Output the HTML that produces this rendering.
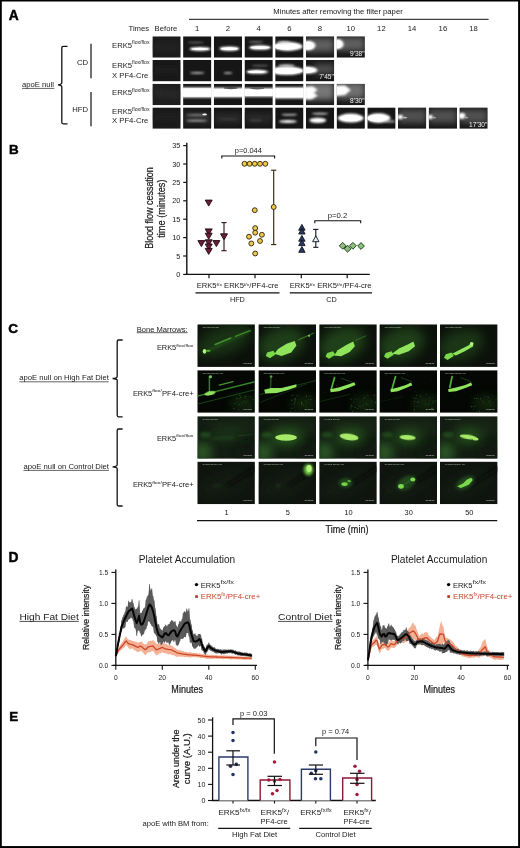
<!DOCTYPE html>
<html lang="en"><head><meta charset="utf-8"><title>Figure</title>
<style>
html,body{margin:0;padding:0;background:#fff;}
body{width:520px;height:848px;overflow:hidden;position:relative;font-family:"Liberation Sans",Arial,sans-serif;}
svg{display:block;position:absolute;left:0;top:0;opacity:0.999;}
svg text{font-family:"Liberation Sans",Arial,sans-serif;fill:#1a1a1a;}
</style></head><body>
<svg width="520" height="848" viewBox="0 0 520 848">
<defs>
<filter id="c1" filterUnits="userSpaceOnUse" x="-40" y="-40" width="180" height="160"><feGaussianBlur stdDeviation="2.2"/></filter>
<filter id="c2" filterUnits="userSpaceOnUse" x="-40" y="-40" width="180" height="160"><feGaussianBlur stdDeviation="4.5"/></filter>
<filter id="c3" filterUnits="userSpaceOnUse" x="-40" y="-40" width="180" height="160"><feGaussianBlur stdDeviation="11"/></filter>
<filter id="g1" filterUnits="userSpaceOnUse" x="-40" y="-40" width="180" height="160"><feGaussianBlur stdDeviation="1.1"/></filter>
<filter id="g2" filterUnits="userSpaceOnUse" x="-40" y="-40" width="180" height="160"><feGaussianBlur stdDeviation="2.6"/></filter>
<filter id="g3" filterUnits="userSpaceOnUse" x="-40" y="-40" width="180" height="160"><feGaussianBlur stdDeviation="9"/></filter>
</defs>
<rect x="0" y="0" width="520" height="848" fill="#fff"/>
<g id="panelA">
<text x="8.8" y="20.4" font-size="13.8" font-weight="700" style="fill:#000" stroke="#000" stroke-width="0.45">A</text>
<text x="338" y="14" text-anchor="middle" font-size="7.7">Minutes after removing the filter paper</text>
<line x1="189" y1="19.3" x2="488.6" y2="19.3" stroke="#111" stroke-width="1"/>
<text x="128.5" y="30.8" font-size="7.7">Times</text>
<text x="154.6" y="30.8" font-size="7.7">Before</text>
<text x="197.2" y="30.8" text-anchor="middle" font-size="7.7">1</text>
<text x="228.0" y="30.8" text-anchor="middle" font-size="7.7">2</text>
<text x="258.6" y="30.8" text-anchor="middle" font-size="7.7">4</text>
<text x="289.3" y="30.8" text-anchor="middle" font-size="7.7">6</text>
<text x="320.0" y="30.8" text-anchor="middle" font-size="7.7">8</text>
<text x="350.8" y="30.8" text-anchor="middle" font-size="7.7">10</text>
<text x="381.4" y="30.8" text-anchor="middle" font-size="7.7">12</text>
<text x="412.1" y="30.8" text-anchor="middle" font-size="7.7">14</text>
<text x="442.9" y="30.8" text-anchor="middle" font-size="7.7">16</text>
<text x="473.5" y="30.8" text-anchor="middle" font-size="7.7">18</text>
<text x="22" y="87.2" font-size="7.7">apoE null</text>
<line x1="22" y1="88.4" x2="54.3" y2="88.4" stroke="#222" stroke-width="0.7"/>
<path d="M67.5 46.3 H63.2 Q61.8 46.3 61.8 47.8 V82.5 Q61.8 84.6 58 84.8 Q61.8 85 61.8 87 V122.3 Q61.8 123.8 63.2 123.8 H67.5" fill="none" stroke="#111" stroke-width="1.3"/>
<text x="88" y="65.3" text-anchor="end" font-size="7.7">CD</text>
<text x="88" y="111.5" text-anchor="end" font-size="7.7">HFD</text>
<line x1="91" y1="43.8" x2="91" y2="78.3" stroke="#111" stroke-width="1.2"/>
<line x1="91" y1="92" x2="91" y2="126.3" stroke="#111" stroke-width="1.2"/>
<text x="112" y="47.5" font-size="7.7">ERK5<tspan dy="-3.2" font-size="5" textLength="17.4" lengthAdjust="spacingAndGlyphs">flox/flox</tspan></text>
<text x="112" y="67.5" font-size="7.7">ERK5<tspan dy="-3.2" font-size="5" textLength="17.4" lengthAdjust="spacingAndGlyphs">flox/flox</tspan></text>
<text x="112" y="95" font-size="7.7">ERK5<tspan dy="-3.2" font-size="5" textLength="17.4" lengthAdjust="spacingAndGlyphs">flox/flox</tspan></text>
<text x="112" y="114.3" font-size="7.7">ERK5<tspan dy="-3.2" font-size="5" textLength="17.4" lengthAdjust="spacingAndGlyphs">flox/flox</tspan></text>
<text x="112" y="77.5" font-size="7.7">X PF4-Cre</text>
<text x="112" y="123.2" font-size="7.7">X PF4-Cre</text>
<svg x="152.4" y="36.3" width="28.3" height="21.4" viewBox="0 0 100 76" preserveAspectRatio="none"><rect width="100" height="76" fill="#1d1d1d"/><rect x="0" y="30" width="100" height="18" fill="#2a2a2a" opacity="0.8" filter="url(#c3)"/></svg>
<svg x="183.1" y="36.3" width="28.3" height="21.4" viewBox="0 0 100 76" preserveAspectRatio="none"><rect width="100" height="76" fill="#161616"/><ellipse cx="45" cy="22" rx="30" ry="2.5" fill="#888" opacity="0.8" filter="url(#c2)"/><ellipse cx="60" cy="45" rx="38" ry="7" fill="#ffffff" opacity="1" filter="url(#c2)"/><ellipse cx="60" cy="45" rx="30" ry="4" fill="#ffffff" opacity="1" filter="url(#c1)"/></svg>
<svg x="213.8" y="36.3" width="28.3" height="21.4" viewBox="0 0 100 76" preserveAspectRatio="none"><rect width="100" height="76" fill="#161616"/><ellipse cx="55" cy="44" rx="36" ry="8" fill="#ffffff" opacity="1" filter="url(#c2)"/><ellipse cx="55" cy="44" rx="30" ry="5" fill="#ffffff" opacity="1" filter="url(#c1)"/></svg>
<svg x="244.5" y="36.3" width="28.3" height="21.4" viewBox="0 0 100 76" preserveAspectRatio="none"><rect width="100" height="76" fill="#161616"/><ellipse cx="40" cy="20" rx="28" ry="2.5" fill="#aaa" opacity="0.8" filter="url(#c2)"/><ellipse cx="55" cy="40" rx="40" ry="8" fill="#ffffff" opacity="1" filter="url(#c2)"/><ellipse cx="55" cy="40" rx="34" ry="5" fill="#ffffff" opacity="1" filter="url(#c1)"/></svg>
<svg x="275.2" y="36.3" width="28.3" height="21.4" viewBox="0 0 100 76" preserveAspectRatio="none"><rect width="100" height="76" fill="#161616"/><ellipse cx="45" cy="36" rx="52" ry="16" fill="#ffffff" opacity="1" filter="url(#c2)"/><ellipse cx="40" cy="36" rx="44" ry="12" fill="#ffffff" opacity="1" filter="url(#c1)"/><ellipse cx="30" cy="22" rx="25" ry="5" fill="#ddd" opacity="0.9" filter="url(#c2)"/></svg>
<svg x="305.9" y="36.3" width="28.3" height="21.4" viewBox="0 0 100 76" preserveAspectRatio="none"><rect width="100" height="76" fill="#161616"/><rect x="0" y="6" width="100" height="50" fill="#808080" opacity="0.7" filter="url(#c3)"/><ellipse cx="8" cy="33" rx="26" ry="17" fill="#ffffff" opacity="1" filter="url(#c2)"/><ellipse cx="5" cy="33" rx="22" ry="14" fill="#ffffff" opacity="1" filter="url(#c1)"/></svg>
<svg x="336.6" y="36.3" width="28.3" height="21.4" viewBox="0 0 100 76" preserveAspectRatio="none"><rect width="100" height="76" fill="#161616"/><rect x="0" y="2" width="100" height="50" fill="#808080" opacity="0.7" filter="url(#c3)"/><ellipse cx="3" cy="28" rx="22" ry="18" fill="#ffffff" opacity="1" filter="url(#c2)"/><ellipse cx="0" cy="28" rx="18" ry="15" fill="#ffffff" opacity="1" filter="url(#c1)"/></svg><text x="364.6" y="55.5" text-anchor="end" font-size="6.6" style="fill:#f2f2f2">9'38"</text>
<svg x="152.4" y="60.0" width="28.3" height="21.4" viewBox="0 0 100 76" preserveAspectRatio="none"><rect width="100" height="76" fill="#191919"/><rect x="0" y="30" width="100" height="14" fill="#232323" opacity="0.8" filter="url(#c3)"/></svg>
<svg x="183.1" y="60.0" width="28.3" height="21.4" viewBox="0 0 100 76" preserveAspectRatio="none"><rect width="100" height="76" fill="#161616"/><ellipse cx="50" cy="46" rx="26" ry="3" fill="#ddd" opacity="0.9" filter="url(#c2)"/></svg>
<svg x="213.8" y="60.0" width="28.3" height="21.4" viewBox="0 0 100 76" preserveAspectRatio="none"><rect width="100" height="76" fill="#161616"/><ellipse cx="50" cy="46" rx="16" ry="2.5" fill="#eee" opacity="0.9" filter="url(#c2)"/></svg>
<svg x="244.5" y="60.0" width="28.3" height="21.4" viewBox="0 0 100 76" preserveAspectRatio="none"><rect width="100" height="76" fill="#161616"/><ellipse cx="55" cy="20" rx="30" ry="2.5" fill="#aaa" opacity="0.7" filter="url(#c2)"/><ellipse cx="45" cy="42" rx="40" ry="7" fill="#ffffff" opacity="1" filter="url(#c2)"/><ellipse cx="42" cy="42" rx="32" ry="4.5" fill="#ffffff" opacity="1" filter="url(#c1)"/></svg>
<svg x="275.2" y="60.0" width="28.3" height="21.4" viewBox="0 0 100 76" preserveAspectRatio="none"><rect width="100" height="76" fill="#161616"/><ellipse cx="40" cy="38" rx="62" ry="15" fill="#ffffff" opacity="1" filter="url(#c2)"/><ellipse cx="40" cy="38" rx="55" ry="11" fill="#ffffff" opacity="1" filter="url(#c1)"/><ellipse cx="40" cy="20" rx="30" ry="5" fill="#ddd" opacity="0.9" filter="url(#c2)"/></svg>
<svg x="305.9" y="60.0" width="28.3" height="21.4" viewBox="0 0 100 76" preserveAspectRatio="none"><rect width="100" height="76" fill="#161616"/><rect x="30" y="14" width="70" height="36" fill="#777" opacity="0.6" filter="url(#c3)"/><ellipse cx="5" cy="36" rx="36" ry="13" fill="#ffffff" opacity="1" filter="url(#c2)"/><ellipse cx="0" cy="36" rx="32" ry="10" fill="#ffffff" opacity="1" filter="url(#c1)"/></svg><text x="333.9" y="79.2" text-anchor="end" font-size="6.6" style="fill:#f2f2f2">7'45"</text>
<svg x="152.4" y="83.8" width="28.3" height="21.4" viewBox="0 0 100 76" preserveAspectRatio="none"><rect width="100" height="76" fill="#1f1f1f"/><path d="M0 20 L100 32 L100 48 L0 40 Z" fill="#333" opacity="0.8" filter="url(#c3)"/></svg>
<svg x="183.1" y="83.8" width="28.3" height="21.4" viewBox="0 0 100 76" preserveAspectRatio="none"><rect width="100" height="76" fill="#161616"/><rect x="-5" y="13" width="110" height="36" fill="#ffffff" opacity="1" filter="url(#c2)"/><rect x="-5" y="16" width="110" height="30" fill="#ffffff" opacity="1" filter="url(#c1)"/></svg>
<svg x="213.8" y="83.8" width="28.3" height="21.4" viewBox="0 0 100 76" preserveAspectRatio="none"><rect width="100" height="76" fill="#161616"/><rect x="-5" y="14" width="110" height="34" fill="#ffffff" opacity="1" filter="url(#c2)"/><rect x="-5" y="18" width="110" height="27" fill="#ffffff" opacity="1" filter="url(#c1)"/><ellipse cx="60" cy="15" rx="25" ry="4" fill="#444" opacity="0.9" filter="url(#c1)"/></svg>
<svg x="244.5" y="83.8" width="28.3" height="21.4" viewBox="0 0 100 76" preserveAspectRatio="none"><rect width="100" height="76" fill="#161616"/><rect x="-5" y="15" width="110" height="31" fill="#ffffff" opacity="1" filter="url(#c2)"/><rect x="-5" y="19" width="110" height="24" fill="#ffffff" opacity="1" filter="url(#c1)"/><ellipse cx="45" cy="16" rx="25" ry="4" fill="#555" opacity="0.9" filter="url(#c1)"/></svg>
<svg x="275.2" y="83.8" width="28.3" height="21.4" viewBox="0 0 100 76" preserveAspectRatio="none"><rect width="100" height="76" fill="#161616"/><rect x="-5" y="12" width="110" height="40" fill="#ffffff" opacity="1" filter="url(#c2)"/><rect x="-5" y="16" width="110" height="32" fill="#ffffff" opacity="1" filter="url(#c1)"/></svg>
<svg x="305.9" y="83.8" width="28.3" height="21.4" viewBox="0 0 100 76" preserveAspectRatio="none"><rect width="100" height="76" fill="#161616"/><rect x="0" y="-5" width="100" height="62" fill="#999" opacity="0.75" filter="url(#c3)"/><path d="M-5 10 L25 10 L42 22 L28 32 L42 42 L20 56 L-5 56 Z" fill="#ffffff" opacity="1" filter="url(#c2)"/></svg>
<svg x="336.6" y="83.8" width="28.3" height="21.4" viewBox="0 0 100 76" preserveAspectRatio="none"><rect width="100" height="76" fill="#161616"/><rect x="0" y="-5" width="100" height="58" fill="#999" opacity="0.7" filter="url(#c3)"/><path d="M-5 6 L30 6 L50 22 L30 40 L-5 44 Z" fill="#ffffff" opacity="1" filter="url(#c2)"/></svg><text x="364.6" y="103.0" text-anchor="end" font-size="6.6" style="fill:#f2f2f2">8'30"</text>
<svg x="152.4" y="107.4" width="28.3" height="21.4" viewBox="0 0 100 76" preserveAspectRatio="none"><rect width="100" height="76" fill="#1a1a1a"/><rect x="0" y="25" width="100" height="16" fill="#262626" opacity="0.8" filter="url(#c3)"/></svg>
<svg x="183.1" y="107.4" width="28.3" height="21.4" viewBox="0 0 100 76" preserveAspectRatio="none"><rect width="100" height="76" fill="#161616"/><rect x="0" y="18" width="100" height="38" fill="#3a3a3a" opacity="0.7" filter="url(#c3)"/><ellipse cx="48" cy="27" rx="38" ry="3" fill="#bbb" opacity="0.8" filter="url(#c2)"/><ellipse cx="48" cy="47" rx="36" ry="3.5" fill="#ccc" opacity="0.85" filter="url(#c2)"/><ellipse cx="76" cy="25" rx="8" ry="3" fill="#ffffff" opacity="1" filter="url(#c1)"/></svg>
<svg x="213.8" y="107.4" width="28.3" height="21.4" viewBox="0 0 100 76" preserveAspectRatio="none"><rect width="100" height="76" fill="#161616"/><rect x="0" y="20" width="100" height="34" fill="#343434" opacity="0.7" filter="url(#c3)"/><ellipse cx="50" cy="42" rx="34" ry="3" fill="#4a4a4a" opacity="0.8" filter="url(#c2)"/></svg>
<svg x="244.5" y="107.4" width="28.3" height="21.4" viewBox="0 0 100 76" preserveAspectRatio="none"><rect width="100" height="76" fill="#161616"/><rect x="0" y="20" width="100" height="34" fill="#303030" opacity="0.7" filter="url(#c3)"/><ellipse cx="40" cy="46" rx="24" ry="4" fill="#4a4a4a" opacity="0.8" filter="url(#c2)"/></svg>
<svg x="275.2" y="107.4" width="28.3" height="21.4" viewBox="0 0 100 76" preserveAspectRatio="none"><rect width="100" height="76" fill="#161616"/><ellipse cx="50" cy="26" rx="28" ry="3" fill="#eee" opacity="0.9" filter="url(#c2)"/><ellipse cx="45" cy="50" rx="32" ry="5" fill="#ffffff" opacity="1" filter="url(#c2)"/></svg>
<svg x="305.9" y="107.4" width="28.3" height="21.4" viewBox="0 0 100 76" preserveAspectRatio="none"><rect width="100" height="76" fill="#161616"/><ellipse cx="50" cy="22" rx="30" ry="3" fill="#eee" opacity="0.9" filter="url(#c2)"/><ellipse cx="42" cy="46" rx="30" ry="9" fill="#ffffff" opacity="1" filter="url(#c2)"/></svg>
<svg x="336.6" y="107.4" width="28.3" height="21.4" viewBox="0 0 100 76" preserveAspectRatio="none"><rect width="100" height="76" fill="#161616"/><ellipse cx="50" cy="38" rx="46" ry="16" fill="#ffffff" opacity="1" filter="url(#c2)"/><ellipse cx="50" cy="38" rx="38" ry="11" fill="#ffffff" opacity="1" filter="url(#c1)"/></svg>
<svg x="367.3" y="107.4" width="28.3" height="21.4" viewBox="0 0 100 76" preserveAspectRatio="none"><rect width="100" height="76" fill="#161616"/><ellipse cx="40" cy="38" rx="42" ry="17" fill="#ffffff" opacity="1" filter="url(#c2)"/><ellipse cx="36" cy="38" rx="36" ry="13" fill="#ffffff" opacity="1" filter="url(#c1)"/><ellipse cx="80" cy="50" rx="20" ry="4" fill="#ccc" opacity="0.8" filter="url(#c2)"/></svg>
<svg x="398.0" y="107.4" width="28.3" height="21.4" viewBox="0 0 100 76" preserveAspectRatio="none"><rect width="100" height="76" fill="#161616"/><rect x="0" y="6" width="100" height="50" fill="#6a6a6a" opacity="0.7" filter="url(#c3)"/><ellipse cx="8" cy="34" rx="10" ry="8" fill="#ffffff" opacity="1" filter="url(#c2)"/><ellipse cx="25" cy="36" rx="8" ry="3" fill="#ccc" opacity="0.8" filter="url(#c1)"/></svg>
<svg x="428.7" y="107.4" width="28.3" height="21.4" viewBox="0 0 100 76" preserveAspectRatio="none"><rect width="100" height="76" fill="#161616"/><rect x="0" y="6" width="100" height="50" fill="#6a6a6a" opacity="0.7" filter="url(#c3)"/><ellipse cx="6" cy="34" rx="9" ry="8" fill="#ffffff" opacity="1" filter="url(#c2)"/><ellipse cx="20" cy="36" rx="6" ry="3" fill="#bbb" opacity="0.7" filter="url(#c1)"/></svg>
<svg x="459.4" y="107.4" width="28.3" height="21.4" viewBox="0 0 100 76" preserveAspectRatio="none"><rect width="100" height="76" fill="#161616"/><rect x="0" y="6" width="100" height="50" fill="#6a6a6a" opacity="0.7" filter="url(#c3)"/><ellipse cx="8" cy="30" rx="13" ry="11" fill="#ffffff" opacity="1" filter="url(#c2)"/><ellipse cx="25" cy="36" rx="6" ry="3" fill="#bbb" opacity="0.7" filter="url(#c1)"/></svg><text x="487.4" y="126.6" text-anchor="end" font-size="6.6" style="fill:#f2f2f2">17'30"</text>
</g>
<g id="panelB">
<text x="8.9" y="153.6" font-size="13.4" style="fill:#000" font-weight="700" stroke="#000" stroke-width="0.45">B</text>
<line x1="186.8" y1="142.8" x2="186.8" y2="275.0" stroke="#111" stroke-width="1.4" stroke-linecap="butt"/>
<line x1="186.10000000000002" y1="274.4" x2="369.8" y2="274.4" stroke="#111" stroke-width="1.4" stroke-linecap="butt"/>
<line x1="183.20000000000002" y1="274.4" x2="186.8" y2="274.4" stroke="#111" stroke-width="1.2" stroke-linecap="butt"/>
<text x="180.3" y="277.0" font-size="7.3" text-anchor="end">0</text>
<line x1="183.20000000000002" y1="255.99999999999997" x2="186.8" y2="255.99999999999997" stroke="#111" stroke-width="1.2" stroke-linecap="butt"/>
<text x="180.3" y="258.6" font-size="7.3" text-anchor="end">5</text>
<line x1="183.20000000000002" y1="237.59999999999997" x2="186.8" y2="237.59999999999997" stroke="#111" stroke-width="1.2" stroke-linecap="butt"/>
<text x="180.3" y="240.2" font-size="7.3" text-anchor="end">10</text>
<line x1="183.20000000000002" y1="219.2" x2="186.8" y2="219.2" stroke="#111" stroke-width="1.2" stroke-linecap="butt"/>
<text x="180.3" y="221.8" font-size="7.3" text-anchor="end">15</text>
<line x1="183.20000000000002" y1="200.79999999999995" x2="186.8" y2="200.79999999999995" stroke="#111" stroke-width="1.2" stroke-linecap="butt"/>
<text x="180.3" y="203.4" font-size="7.3" text-anchor="end">20</text>
<line x1="183.20000000000002" y1="182.39999999999998" x2="186.8" y2="182.39999999999998" stroke="#111" stroke-width="1.2" stroke-linecap="butt"/>
<text x="180.3" y="185.0" font-size="7.3" text-anchor="end">25</text>
<line x1="183.20000000000002" y1="163.99999999999997" x2="186.8" y2="163.99999999999997" stroke="#111" stroke-width="1.2" stroke-linecap="butt"/>
<text x="180.3" y="166.6" font-size="7.3" text-anchor="end">30</text>
<line x1="183.20000000000002" y1="145.59999999999997" x2="186.8" y2="145.59999999999997" stroke="#111" stroke-width="1.2" stroke-linecap="butt"/>
<text x="180.3" y="148.2" font-size="7.3" text-anchor="end">35</text>
<line x1="209" y1="274.4" x2="209" y2="278.2" stroke="#111" stroke-width="1.2" stroke-linecap="butt"/>
<line x1="255" y1="274.4" x2="255" y2="278.2" stroke="#111" stroke-width="1.2" stroke-linecap="butt"/>
<line x1="301.3" y1="274.4" x2="301.3" y2="278.2" stroke="#111" stroke-width="1.2" stroke-linecap="butt"/>
<line x1="347.2" y1="274.4" x2="347.2" y2="278.2" stroke="#111" stroke-width="1.2" stroke-linecap="butt"/>
<text x="153.3" y="208" font-size="10.6" text-anchor="middle" textLength="81.6" lengthAdjust="spacingAndGlyphs" transform="rotate(-90 153.3 208)" stroke="#1a1a1a" stroke-width="0.22">Blood flow cessation</text>
<text x="165.1" y="208.6" font-size="10.6" text-anchor="middle" textLength="58.3" lengthAdjust="spacingAndGlyphs" transform="rotate(-90 165.1 208.6)" stroke="#1a1a1a" stroke-width="0.22">time (minutes)</text>
<path d="M205.2 200.1 H212.2 L208.7 206.1 Z" fill="#6a1e36" stroke="#1a0a10" stroke-width="0.9" stroke-linejoin="miter"/>
<path d="M205.2 228.9 H212.2 L208.7 234.9 Z" fill="#6a1e36" stroke="#1a0a10" stroke-width="0.9" stroke-linejoin="miter"/>
<path d="M205.2 233.2 H212.2 L208.7 239.2 Z" fill="#6a1e36" stroke="#1a0a10" stroke-width="0.9" stroke-linejoin="miter"/>
<path d="M197.9 240.6 H204.9 L201.4 246.6 Z" fill="#6a1e36" stroke="#1a0a10" stroke-width="0.9" stroke-linejoin="miter"/>
<path d="M205.2 239.8 H212.2 L208.7 245.8 Z" fill="#6a1e36" stroke="#1a0a10" stroke-width="0.9" stroke-linejoin="miter"/>
<path d="M212.9 240.6 H219.9 L216.4 246.6 Z" fill="#6a1e36" stroke="#1a0a10" stroke-width="0.9" stroke-linejoin="miter"/>
<path d="M205.2 244.0 H212.2 L208.7 250.0 Z" fill="#6a1e36" stroke="#1a0a10" stroke-width="0.9" stroke-linejoin="miter"/>
<path d="M205.2 248.4 H212.2 L208.7 254.4 Z" fill="#6a1e36" stroke="#1a0a10" stroke-width="0.9" stroke-linejoin="miter"/>
<line x1="224" y1="222.6" x2="224" y2="250.7" stroke="#2a0c14" stroke-width="1.1" stroke-linecap="butt"/><line x1="221.4" y1="222.6" x2="226.6" y2="222.6" stroke="#2a0c14" stroke-width="1.1" stroke-linecap="butt"/><line x1="221.4" y1="250.7" x2="226.6" y2="250.7" stroke="#2a0c14" stroke-width="1.1" stroke-linecap="butt"/>
<path d="M220.5 233.8 H227.5 L224.0 239.8 Z" fill="#6a1e36" stroke="#1a0a10" stroke-width="0.9" stroke-linejoin="miter"/>
<circle cx="244.5" cy="163.8" r="2.45" fill="#f1c84a" stroke="#2a2208" stroke-width="0.9"/>
<circle cx="249.6" cy="163.8" r="2.45" fill="#f1c84a" stroke="#2a2208" stroke-width="0.9"/>
<circle cx="254.8" cy="163.8" r="2.45" fill="#f1c84a" stroke="#2a2208" stroke-width="0.9"/>
<circle cx="260.0" cy="163.8" r="2.45" fill="#f1c84a" stroke="#2a2208" stroke-width="0.9"/>
<circle cx="265.3" cy="163.8" r="2.45" fill="#f1c84a" stroke="#2a2208" stroke-width="0.9"/>
<circle cx="254.8" cy="210.2" r="2.45" fill="#f1c84a" stroke="#2a2208" stroke-width="0.9"/>
<circle cx="255.2" cy="228.1" r="2.45" fill="#f1c84a" stroke="#2a2208" stroke-width="0.9"/>
<circle cx="255.2" cy="232.7" r="2.45" fill="#f1c84a" stroke="#2a2208" stroke-width="0.9"/>
<circle cx="261.9" cy="234.8" r="2.45" fill="#f1c84a" stroke="#2a2208" stroke-width="0.9"/>
<circle cx="249.0" cy="236.7" r="2.45" fill="#f1c84a" stroke="#2a2208" stroke-width="0.9"/>
<circle cx="260.0" cy="241.0" r="2.45" fill="#f1c84a" stroke="#2a2208" stroke-width="0.9"/>
<circle cx="251.3" cy="243.5" r="2.45" fill="#f1c84a" stroke="#2a2208" stroke-width="0.9"/>
<circle cx="255.2" cy="253.5" r="2.45" fill="#f1c84a" stroke="#2a2208" stroke-width="0.9"/>
<line x1="273.7" y1="170.2" x2="273.7" y2="244.6" stroke="#2a2208" stroke-width="1.1" stroke-linecap="butt"/><line x1="271.09999999999997" y1="170.2" x2="276.3" y2="170.2" stroke="#2a2208" stroke-width="1.1" stroke-linecap="butt"/><line x1="271.09999999999997" y1="244.6" x2="276.3" y2="244.6" stroke="#2a2208" stroke-width="1.1" stroke-linecap="butt"/>
<circle cx="273.7" cy="207.0" r="2.45" fill="#f1c84a" stroke="#2a2208" stroke-width="0.9"/>
<path d="M221.8 158.6 V156 H274.6 V158.6" fill="none" stroke="#111" stroke-width="1.1"/>
<text x="248.3" y="153.3" font-size="6.9" text-anchor="middle" textLength="27" lengthAdjust="spacingAndGlyphs">p=0.044</text>
<path d="M298.7 230.2 H305.1 L301.9 224.4 Z" fill="#2b3a5c" stroke="#0c1220" stroke-width="0.9"/>
<path d="M298.7 234.0 H305.1 L301.9 228.2 Z" fill="#2b3a5c" stroke="#0c1220" stroke-width="0.9"/>
<path d="M298.7 241.2 H305.1 L301.9 235.4 Z" fill="#2b3a5c" stroke="#0c1220" stroke-width="0.9"/>
<path d="M298.7 245.6 H305.1 L301.9 239.8 Z" fill="#2b3a5c" stroke="#0c1220" stroke-width="0.9"/>
<path d="M298.7 252.3 H305.1 L301.9 246.5 Z" fill="#2b3a5c" stroke="#0c1220" stroke-width="0.9"/>
<line x1="315.8" y1="229.4" x2="315.8" y2="247.3" stroke="#0c1220" stroke-width="1.1" stroke-linecap="butt"/><line x1="313.2" y1="229.4" x2="318.40000000000003" y2="229.4" stroke="#0c1220" stroke-width="1.1" stroke-linecap="butt"/><line x1="313.2" y1="247.3" x2="318.40000000000003" y2="247.3" stroke="#0c1220" stroke-width="1.1" stroke-linecap="butt"/>
<path d="M312.6 241.7 H319.0 L315.8 235.9 Z" fill="#e8eef8" stroke="#0c1220" stroke-width="0.9"/>
<path d="M339.3 245.8 L342.7 242.4 L346.1 245.8 L342.7 249.2 Z" fill="#8cc177" stroke="#16301a" stroke-width="0.9"/>
<path d="M344.2 248.8 L347.6 245.4 L351.0 248.8 L347.6 252.2 Z" fill="#8cc177" stroke="#16301a" stroke-width="0.9"/>
<path d="M349.5 245.8 L352.9 242.4 L356.3 245.8 L352.9 249.2 Z" fill="#8cc177" stroke="#16301a" stroke-width="0.9"/>
<path d="M357.6 246.0 L361.0 242.6 L364.4 246.0 L361.0 249.4 Z" fill="#8cc177" stroke="#16301a" stroke-width="0.9"/>
<path d="M314.8 223.3 V220.8 H360.7 V223.3" fill="none" stroke="#111" stroke-width="1.1"/>
<text x="337.5" y="218" font-size="6.9" text-anchor="middle" textLength="19.5" lengthAdjust="spacingAndGlyphs">p=0.2</text>
<text x="196.7" y="288.4" font-size="6.6" textLength="81.8" lengthAdjust="spacingAndGlyphs">ERK5<tspan dy="-2.6" font-size="4.4">f/x</tspan><tspan dy="2.6"> ERK5</tspan><tspan dy="-2.6" font-size="4.4">f/x</tspan><tspan dy="2.6">/PF4-cre</tspan></text>
<text x="289.8" y="288.4" font-size="6.6" textLength="81.8" lengthAdjust="spacingAndGlyphs">ERK5<tspan dy="-2.6" font-size="4.4">f/x</tspan><tspan dy="2.6"> ERK5</tspan><tspan dy="-2.6" font-size="4.4">f/x</tspan><tspan dy="2.6">/PF4-cre</tspan></text>
<line x1="195.5" y1="292.9" x2="279.5" y2="292.9" stroke="#111" stroke-width="1.2" stroke-linecap="butt"/>
<line x1="289.8" y1="292.9" x2="372" y2="292.9" stroke="#111" stroke-width="1.2" stroke-linecap="butt"/>
<text x="237.4" y="302.3" font-size="6.7" text-anchor="middle" textLength="15" lengthAdjust="spacingAndGlyphs">HFD</text>
<text x="331.6" y="302.3" font-size="6.7" text-anchor="middle" textLength="10.5" lengthAdjust="spacingAndGlyphs">CD</text>
</g>
<g id="panelC">
<text x="8.3" y="332.8" font-size="13.6" style="fill:#000" font-weight="700" stroke="#000" stroke-width="0.45">C</text>
<text x="136.7" y="331.5" font-size="7.4" textLength="51" lengthAdjust="spacingAndGlyphs">Bone Marrows:</text>
<line x1="136.7" y1="332.7" x2="187.7" y2="332.7" stroke="#222" stroke-width="0.7" stroke-linecap="butt"/>
<text x="19.3" y="380.4" font-size="7.3" textLength="89.5" lengthAdjust="spacingAndGlyphs">apoE null on High Fat Diet</text>
<line x1="19.3" y1="381.8" x2="108.8" y2="381.8" stroke="#222" stroke-width="0.7" stroke-linecap="butt"/>
<text x="23.5" y="469" font-size="7.3" textLength="85.5" lengthAdjust="spacingAndGlyphs">apoE null on Control Diet</text>
<line x1="23.5" y1="470.4" x2="109" y2="470.4" stroke="#222" stroke-width="0.7" stroke-linecap="butt"/>
<path d="M122.6 340 H118.60000000000001 Q117.2 340 117.2 341.5 V376.5 Q117.2 378.3 112.60000000000001 378.5 Q117.2 378.7 117.2 380.5 V415.3 Q117.2 416.8 118.60000000000001 416.8 H122.6" fill="none" stroke="#111" stroke-width="1.3"/>
<path d="M122.6 429 H118.60000000000001 Q117.2 429 117.2 430.5 V464.8 Q117.2 466.6 112.60000000000001 466.8 Q117.2 467.0 117.2 468.8 V504.5 Q117.2 506 118.60000000000001 506 H122.6" fill="none" stroke="#111" stroke-width="1.3"/>
<text x="156.9" y="350.2" font-size="7.4">ERK5<tspan dy="-3.6" font-size="4.4" textLength="17.2" lengthAdjust="spacingAndGlyphs">flox/flox</tspan></text>
<text x="132.9" y="395.9" font-size="7.4">ERK5<tspan dy="-3.6" font-size="4.4" textLength="9.8" lengthAdjust="spacingAndGlyphs">flox/</tspan><tspan dy="3.6" textLength="31.8" lengthAdjust="spacingAndGlyphs">PF4-cre+</tspan></text>
<text x="156.9" y="441" font-size="7.4">ERK5<tspan dy="-3.6" font-size="4.4" textLength="17.2" lengthAdjust="spacingAndGlyphs">flox/flox</tspan></text>
<text x="132.9" y="487.4" font-size="7.4">ERK5<tspan dy="-3.6" font-size="4.4" textLength="9.8" lengthAdjust="spacingAndGlyphs">flox/</tspan><tspan dy="3.6" textLength="31.8" lengthAdjust="spacingAndGlyphs">PF4-cre+</tspan></text>
<svg x="197.3" y="324.3" width="57.6" height="42.6" viewBox="0 0 100 74" preserveAspectRatio="none"><rect width="100" height="74" fill="#0c120b"/><ellipse cx="45" cy="28" rx="50" ry="24" fill="#2a5a24" opacity="0.45" filter="url(#g3)" transform="rotate(-20 45 28)"/><line x1="12" y1="49" x2="92" y2="11" stroke="#2f7a24" stroke-width="3" opacity="0.6" stroke-linecap="round" filter="url(#g2)"/><line x1="31" y1="35" x2="58" y2="24" stroke="#4aa832" stroke-width="2.8" opacity="0.8" stroke-linecap="round" filter="url(#g1)"/><line x1="66" y1="21" x2="92" y2="11" stroke="#4aa832" stroke-width="2" opacity="0.7" stroke-linecap="round" filter="url(#g1)"/><ellipse cx="12.5" cy="47" rx="3" ry="4" fill="#b4f27e" opacity="1" filter="url(#g1)"/><ellipse cx="19" cy="46" rx="4" ry="2" fill="#58b83a" opacity="0.9" filter="url(#g1)"/><text x="9" y="6.5" font-size="3.6" style="fill:#d8e8d0" opacity="0.8">100 µg/ml flox/flox</text><text x="95" y="68.5" font-size="3.8" text-anchor="end" style="fill:#e8f0e4" opacity="0.9">00:01:00</text></svg>
<svg x="258.4" y="324.3" width="57.6" height="42.6" viewBox="0 0 100 74" preserveAspectRatio="none"><rect width="100" height="74" fill="#0c120b"/><ellipse cx="40" cy="34" rx="42" ry="28" fill="#2a5a24" opacity="0.62" filter="url(#g3)" transform="rotate(-20 40 34)"/><path d="M28 51 L34 43 L49 34 L63 29 L66 37 L57 49 L40 55 Z" fill="#8fe45c" opacity="1" filter="url(#g1)"/><path d="M13 55 L15 49 L26 46 L30 52 L20 59 Z" fill="#7cd84c" opacity="1" filter="url(#g1)"/><line x1="70" y1="27" x2="96" y2="15" stroke="#3f9a30" stroke-width="1.8" opacity="0.7" stroke-linecap="round" filter="url(#g1)"/><ellipse cx="88" cy="20" rx="2" ry="1.6" fill="#b4f27e" opacity="0.8" filter="url(#g1)"/><text x="9" y="6.5" font-size="3.6" style="fill:#d8e8d0" opacity="0.8">100 µg/ml flox/flox</text><text x="95" y="68.5" font-size="3.8" text-anchor="end" style="fill:#e8f0e4" opacity="0.9">00:05:00</text></svg>
<svg x="319.2" y="324.3" width="57.6" height="42.6" viewBox="0 0 100 74" preserveAspectRatio="none"><rect width="100" height="74" fill="#0c120b"/><ellipse cx="40" cy="34" rx="42" ry="28" fill="#2a5a24" opacity="0.66" filter="url(#g3)" transform="rotate(-20 40 34)"/><path d="M26 54 L32 45 L47 36 L59 30 L62 38 L53 48 L38 55.5 Z" fill="#8fe45c" opacity="1" filter="url(#g1)"/><path d="M11 56 L14 50 L24 47 L28 53 L17 60 Z" fill="#7cd84c" opacity="1" filter="url(#g1)"/><line x1="63" y1="28" x2="81" y2="20" stroke="#3f9a30" stroke-width="1.6" opacity="0.6" stroke-linecap="round" filter="url(#g1)"/><text x="9" y="6.5" font-size="3.6" style="fill:#d8e8d0" opacity="0.8">100 µg/ml flox/flox</text><text x="95" y="68.5" font-size="3.8" text-anchor="end" style="fill:#e8f0e4" opacity="0.9">00:10:00</text></svg>
<svg x="379.4" y="324.3" width="57.6" height="42.6" viewBox="0 0 100 74" preserveAspectRatio="none"><rect width="100" height="74" fill="#0c120b"/><ellipse cx="38" cy="34" rx="42" ry="28" fill="#2a5a24" opacity="0.62" filter="url(#g3)" transform="rotate(-20 38 34)"/><path d="M22 51 L34 42 L50 34.5 L59 30 L62 38 L51 47 L34 53 Z" fill="#8fe45c" opacity="1" filter="url(#g1)"/><path d="M8 56 L11 50 L21 47 L25 53 L14 60 Z" fill="#7cd84c" opacity="1" filter="url(#g1)"/><text x="9" y="6.5" font-size="3.6" style="fill:#d8e8d0" opacity="0.8">100 µg/ml flox/flox</text><text x="95" y="68.5" font-size="3.8" text-anchor="end" style="fill:#e8f0e4" opacity="0.9">00:30:00</text></svg>
<svg x="440.0" y="324.3" width="57.6" height="42.6" viewBox="0 0 100 74" preserveAspectRatio="none"><rect width="100" height="74" fill="#0c120b"/><ellipse cx="36" cy="36" rx="40" ry="26" fill="#2a5a24" opacity="0.5" filter="url(#g3)" transform="rotate(-20 36 36)"/><path d="M21 51 L37 43 L49 37 L55 32 L58 38 L43 47 L27.5 54 Z" fill="#8fe45c" opacity="1" filter="url(#g1)"/><ellipse cx="55" cy="34" rx="3.2" ry="3.2" fill="#b4f27e" opacity="1" filter="url(#g1)"/><path d="M7 58 L10 52 L20 49 L24 55 L13 62 Z" fill="#7cd84c" opacity="1" filter="url(#g1)"/><text x="9" y="6.5" font-size="3.6" style="fill:#d8e8d0" opacity="0.8">100 µg/ml flox/flox</text><text x="95" y="68.5" font-size="3.8" text-anchor="end" style="fill:#e8f0e4" opacity="0.9">00:50:00</text></svg>
<svg x="197.3" y="370.2" width="57.6" height="42.6" viewBox="0 0 100 74" preserveAspectRatio="none"><rect width="100" height="74" fill="#040704"/><ellipse cx="80" cy="58" rx="22" ry="12" fill="#1c3a18" opacity="0.7" filter="url(#g3)"/><circle cx="80.3" cy="54.9" r="0.8" fill="#4a9a38" opacity="0.5"/><circle cx="63.5" cy="66.4" r="1.0" fill="#4a9a38" opacity="0.5"/><circle cx="84.1" cy="46.8" r="0.8" fill="#4a9a38" opacity="0.5"/><circle cx="69.1" cy="49.5" r="1.1" fill="#4a9a38" opacity="0.5"/><circle cx="99.8" cy="43.3" r="1.0" fill="#4a9a38" opacity="0.5"/><circle cx="81.7" cy="53.4" r="0.7" fill="#4a9a38" opacity="0.5"/><circle cx="85.0" cy="55.7" r="0.9" fill="#4a9a38" opacity="0.5"/><circle cx="84.4" cy="46.0" r="1.0" fill="#4a9a38" opacity="0.5"/><circle cx="99.2" cy="71.1" r="0.9" fill="#4a9a38" opacity="0.5"/><circle cx="56.0" cy="42.1" r="0.6" fill="#4a9a38" opacity="0.5"/><circle cx="97.3" cy="51.1" r="0.7" fill="#4a9a38" opacity="0.5"/><circle cx="95.3" cy="51.4" r="0.8" fill="#4a9a38" opacity="0.5"/><circle cx="74.1" cy="43.9" r="0.9" fill="#4a9a38" opacity="0.5"/><circle cx="92.8" cy="46.7" r="0.6" fill="#4a9a38" opacity="0.5"/><circle cx="73.0" cy="43.1" r="0.8" fill="#4a9a38" opacity="0.5"/><circle cx="91.6" cy="61.7" r="0.8" fill="#4a9a38" opacity="0.5"/><circle cx="93.3" cy="46.5" r="0.8" fill="#4a9a38" opacity="0.5"/><circle cx="71.2" cy="60.0" r="0.6" fill="#4a9a38" opacity="0.5"/><circle cx="89.7" cy="44.9" r="0.6" fill="#4a9a38" opacity="0.5"/><circle cx="91.1" cy="70.4" r="0.8" fill="#4a9a38" opacity="0.5"/><circle cx="73.0" cy="49.4" r="0.7" fill="#4a9a38" opacity="0.5"/><circle cx="82.4" cy="47.4" r="0.6" fill="#4a9a38" opacity="0.5"/><circle cx="75.0" cy="46.9" r="0.9" fill="#4a9a38" opacity="0.5"/><circle cx="91.8" cy="65.3" r="0.8" fill="#4a9a38" opacity="0.5"/><circle cx="70.0" cy="55.0" r="0.5" fill="#4a9a38" opacity="0.5"/><circle cx="86.8" cy="51.9" r="0.7" fill="#4a9a38" opacity="0.5"/><circle cx="57.7" cy="55.4" r="0.8" fill="#4a9a38" opacity="0.5"/><circle cx="72.0" cy="68.1" r="0.9" fill="#4a9a38" opacity="0.5"/><circle cx="65.1" cy="57.8" r="1.0" fill="#4a9a38" opacity="0.5"/><circle cx="77.9" cy="60.1" r="0.5" fill="#4a9a38" opacity="0.5"/><circle cx="76.5" cy="55.8" r="0.7" fill="#4a9a38" opacity="0.5"/><circle cx="73.3" cy="59.5" r="0.8" fill="#4a9a38" opacity="0.5"/><circle cx="76.5" cy="47.0" r="0.8" fill="#4a9a38" opacity="0.5"/><circle cx="98.6" cy="54.5" r="0.5" fill="#4a9a38" opacity="0.5"/><circle cx="53.9" cy="23.8" r="0.5" fill="#2f6a24" opacity="0.3"/><circle cx="65.4" cy="18.7" r="0.7" fill="#2f6a24" opacity="0.3"/><circle cx="39.7" cy="46.7" r="1.1" fill="#2f6a24" opacity="0.3"/><circle cx="46.2" cy="69.6" r="1.1" fill="#2f6a24" opacity="0.3"/><circle cx="24.3" cy="9.7" r="0.6" fill="#2f6a24" opacity="0.3"/><circle cx="84.2" cy="44.0" r="1.1" fill="#2f6a24" opacity="0.3"/><circle cx="97.2" cy="47.5" r="0.8" fill="#2f6a24" opacity="0.3"/><circle cx="6.8" cy="6.5" r="1.0" fill="#2f6a24" opacity="0.3"/><circle cx="67.2" cy="54.6" r="0.8" fill="#2f6a24" opacity="0.3"/><circle cx="67.4" cy="46.5" r="1.0" fill="#2f6a24" opacity="0.3"/><line x1="0" y1="45" x2="100" y2="20" stroke="#3f9a30" stroke-width="2.6" opacity="0.85" stroke-linecap="round" filter="url(#g1)"/><line x1="0" y1="59" x2="100" y2="34" stroke="#2f7a26" stroke-width="1.6" opacity="0.6" stroke-linecap="round" filter="url(#g1)"/><line x1="21" y1="11" x2="21" y2="38" stroke="#3f9a30" stroke-width="2.6" opacity="0.8" stroke-linecap="round" filter="url(#g1)"/><ellipse cx="23" cy="11.5" rx="2.6" ry="2.6" fill="#7cd84c" opacity="0.9" filter="url(#g1)"/><ellipse cx="22" cy="40" rx="10" ry="3.4" fill="#8fe45c" opacity="1" filter="url(#g1)" transform="rotate(-12 22 40)"/><line x1="38" y1="26" x2="62" y2="20" stroke="#58b83a" stroke-width="2.2" opacity="0.8" stroke-linecap="round" filter="url(#g1)"/><text x="9" y="6.5" font-size="3.6" style="fill:#d8e8d0" opacity="0.8">100 µg/ml flox/PF4-cre</text><text x="95" y="68.5" font-size="3.8" text-anchor="end" style="fill:#e8f0e4" opacity="0.9">00:01:00</text></svg>
<svg x="258.4" y="370.2" width="57.6" height="42.6" viewBox="0 0 100 74" preserveAspectRatio="none"><rect width="100" height="74" fill="#040704"/><ellipse cx="80" cy="58" rx="22" ry="12" fill="#1c3a18" opacity="0.7" filter="url(#g3)"/><circle cx="74.8" cy="58.8" r="1.1" fill="#4a9a38" opacity="0.5"/><circle cx="75.4" cy="57.2" r="0.9" fill="#4a9a38" opacity="0.5"/><circle cx="62.5" cy="57.4" r="0.9" fill="#4a9a38" opacity="0.5"/><circle cx="90.5" cy="44.8" r="0.7" fill="#4a9a38" opacity="0.5"/><circle cx="58.2" cy="66.3" r="0.9" fill="#4a9a38" opacity="0.5"/><circle cx="55.9" cy="71.5" r="1.1" fill="#4a9a38" opacity="0.5"/><circle cx="84.1" cy="60.5" r="0.6" fill="#4a9a38" opacity="0.5"/><circle cx="54.7" cy="57.9" r="0.5" fill="#4a9a38" opacity="0.5"/><circle cx="62.7" cy="49.3" r="0.5" fill="#4a9a38" opacity="0.5"/><circle cx="75.3" cy="55.2" r="1.0" fill="#4a9a38" opacity="0.5"/><circle cx="77.9" cy="61.2" r="0.8" fill="#4a9a38" opacity="0.5"/><circle cx="84.5" cy="55.7" r="0.7" fill="#4a9a38" opacity="0.5"/><circle cx="99.9" cy="71.9" r="1.0" fill="#4a9a38" opacity="0.5"/><circle cx="86.6" cy="51.5" r="0.6" fill="#4a9a38" opacity="0.5"/><circle cx="67.3" cy="44.1" r="1.0" fill="#4a9a38" opacity="0.5"/><circle cx="72.4" cy="67.4" r="0.7" fill="#4a9a38" opacity="0.5"/><circle cx="98.1" cy="67.4" r="0.5" fill="#4a9a38" opacity="0.5"/><circle cx="63.6" cy="69.3" r="0.8" fill="#4a9a38" opacity="0.5"/><circle cx="99.1" cy="53.9" r="0.5" fill="#4a9a38" opacity="0.5"/><circle cx="83.0" cy="65.4" r="0.7" fill="#4a9a38" opacity="0.5"/><circle cx="58.0" cy="52.0" r="1.1" fill="#4a9a38" opacity="0.5"/><circle cx="88.9" cy="45.5" r="0.6" fill="#4a9a38" opacity="0.5"/><circle cx="58.6" cy="43.8" r="1.0" fill="#4a9a38" opacity="0.5"/><circle cx="62.2" cy="58.8" r="0.8" fill="#4a9a38" opacity="0.5"/><circle cx="62.8" cy="64.0" r="0.6" fill="#4a9a38" opacity="0.5"/><circle cx="83.6" cy="45.5" r="0.8" fill="#4a9a38" opacity="0.5"/><circle cx="63.8" cy="50.1" r="1.1" fill="#4a9a38" opacity="0.5"/><circle cx="91.0" cy="51.1" r="1.0" fill="#4a9a38" opacity="0.5"/><circle cx="63.7" cy="53.8" r="1.0" fill="#4a9a38" opacity="0.5"/><circle cx="83.5" cy="45.0" r="1.1" fill="#4a9a38" opacity="0.5"/><circle cx="63.8" cy="49.7" r="1.0" fill="#4a9a38" opacity="0.5"/><circle cx="69.1" cy="50.9" r="0.5" fill="#4a9a38" opacity="0.5"/><circle cx="58.1" cy="59.5" r="0.6" fill="#4a9a38" opacity="0.5"/><circle cx="81.7" cy="53.2" r="0.8" fill="#4a9a38" opacity="0.5"/><circle cx="1.2" cy="12.3" r="0.7" fill="#2f6a24" opacity="0.3"/><circle cx="68.4" cy="14.0" r="0.6" fill="#2f6a24" opacity="0.3"/><circle cx="23.2" cy="54.2" r="0.6" fill="#2f6a24" opacity="0.3"/><circle cx="74.1" cy="48.0" r="0.6" fill="#2f6a24" opacity="0.3"/><circle cx="53.6" cy="34.1" r="0.7" fill="#2f6a24" opacity="0.3"/><circle cx="99.6" cy="11.1" r="0.5" fill="#2f6a24" opacity="0.3"/><circle cx="94.0" cy="31.2" r="0.6" fill="#2f6a24" opacity="0.3"/><circle cx="33.0" cy="28.7" r="1.1" fill="#2f6a24" opacity="0.3"/><circle cx="21.0" cy="19.1" r="0.9" fill="#2f6a24" opacity="0.3"/><circle cx="54.7" cy="67.0" r="1.0" fill="#2f6a24" opacity="0.3"/><line x1="0" y1="43" x2="100" y2="18" stroke="#2a6a22" stroke-width="1.8" opacity="0.55" stroke-linecap="round" filter="url(#g1)"/><line x1="0" y1="57" x2="84" y2="24" stroke="#255a1e" stroke-width="1.5" opacity="0.5" stroke-linecap="round" filter="url(#g1)"/><line x1="22" y1="11" x2="21" y2="32" stroke="#2f7a26" stroke-width="2.4" opacity="0.7" stroke-linecap="round" filter="url(#g1)"/><ellipse cx="22" cy="11" rx="2.4" ry="2.4" fill="#58b83a" opacity="0.8" filter="url(#g1)"/><path d="M10 34 L22 31 L40 31 L56 27 L66 24.5 L66 29 L50 35 L32 39.5 L12 40.5 Z" fill="#8fe45c" opacity="1" filter="url(#g1)"/><text x="9" y="6.5" font-size="3.6" style="fill:#d8e8d0" opacity="0.8">100 µg/ml flox/PF4-cre</text><text x="95" y="68.5" font-size="3.8" text-anchor="end" style="fill:#e8f0e4" opacity="0.9">00:05:00</text></svg>
<svg x="319.2" y="370.2" width="57.6" height="42.6" viewBox="0 0 100 74" preserveAspectRatio="none"><rect width="100" height="74" fill="#040704"/><ellipse cx="80" cy="58" rx="22" ry="12" fill="#1c3a18" opacity="0.7" filter="url(#g3)"/><circle cx="75.8" cy="61.7" r="0.9" fill="#4a9a38" opacity="0.5"/><circle cx="60.6" cy="42.3" r="0.7" fill="#4a9a38" opacity="0.5"/><circle cx="66.6" cy="66.3" r="0.9" fill="#4a9a38" opacity="0.5"/><circle cx="81.7" cy="58.7" r="0.9" fill="#4a9a38" opacity="0.5"/><circle cx="60.7" cy="55.2" r="0.6" fill="#4a9a38" opacity="0.5"/><circle cx="95.7" cy="43.8" r="1.0" fill="#4a9a38" opacity="0.5"/><circle cx="57.4" cy="62.6" r="0.7" fill="#4a9a38" opacity="0.5"/><circle cx="72.6" cy="67.3" r="0.5" fill="#4a9a38" opacity="0.5"/><circle cx="56.8" cy="69.5" r="0.8" fill="#4a9a38" opacity="0.5"/><circle cx="58.2" cy="71.6" r="1.1" fill="#4a9a38" opacity="0.5"/><circle cx="59.2" cy="54.7" r="0.6" fill="#4a9a38" opacity="0.5"/><circle cx="68.4" cy="60.6" r="0.6" fill="#4a9a38" opacity="0.5"/><circle cx="86.1" cy="43.5" r="0.6" fill="#4a9a38" opacity="0.5"/><circle cx="91.5" cy="54.0" r="0.8" fill="#4a9a38" opacity="0.5"/><circle cx="81.4" cy="56.3" r="0.7" fill="#4a9a38" opacity="0.5"/><circle cx="55.4" cy="63.8" r="1.1" fill="#4a9a38" opacity="0.5"/><circle cx="98.9" cy="61.9" r="0.7" fill="#4a9a38" opacity="0.5"/><circle cx="70.7" cy="62.7" r="0.9" fill="#4a9a38" opacity="0.5"/><circle cx="59.2" cy="49.0" r="0.7" fill="#4a9a38" opacity="0.5"/><circle cx="77.5" cy="66.3" r="0.8" fill="#4a9a38" opacity="0.5"/><circle cx="55.3" cy="66.7" r="0.8" fill="#4a9a38" opacity="0.5"/><circle cx="77.9" cy="48.7" r="0.8" fill="#4a9a38" opacity="0.5"/><circle cx="71.9" cy="65.2" r="0.6" fill="#4a9a38" opacity="0.5"/><circle cx="79.3" cy="47.3" r="0.9" fill="#4a9a38" opacity="0.5"/><circle cx="55.7" cy="50.3" r="0.7" fill="#4a9a38" opacity="0.5"/><circle cx="83.3" cy="43.6" r="0.8" fill="#4a9a38" opacity="0.5"/><circle cx="63.6" cy="50.5" r="0.8" fill="#4a9a38" opacity="0.5"/><circle cx="98.1" cy="56.4" r="1.1" fill="#4a9a38" opacity="0.5"/><circle cx="61.7" cy="69.7" r="0.7" fill="#4a9a38" opacity="0.5"/><circle cx="62.7" cy="64.5" r="1.0" fill="#4a9a38" opacity="0.5"/><circle cx="54.3" cy="50.0" r="1.0" fill="#4a9a38" opacity="0.5"/><circle cx="69.7" cy="49.2" r="0.5" fill="#4a9a38" opacity="0.5"/><circle cx="55.8" cy="60.6" r="1.1" fill="#4a9a38" opacity="0.5"/><circle cx="99.9" cy="57.1" r="0.5" fill="#4a9a38" opacity="0.5"/><circle cx="7.7" cy="18.9" r="0.7" fill="#2f6a24" opacity="0.3"/><circle cx="90.0" cy="37.3" r="0.9" fill="#2f6a24" opacity="0.3"/><circle cx="10.0" cy="38.1" r="1.0" fill="#2f6a24" opacity="0.3"/><circle cx="52.3" cy="66.4" r="1.0" fill="#2f6a24" opacity="0.3"/><circle cx="37.1" cy="5.0" r="1.0" fill="#2f6a24" opacity="0.3"/><circle cx="12.6" cy="5.6" r="0.9" fill="#2f6a24" opacity="0.3"/><circle cx="84.3" cy="59.4" r="1.1" fill="#2f6a24" opacity="0.3"/><circle cx="20.2" cy="10.3" r="0.6" fill="#2f6a24" opacity="0.3"/><circle cx="97.8" cy="12.3" r="0.6" fill="#2f6a24" opacity="0.3"/><circle cx="2.0" cy="8.2" r="0.5" fill="#2f6a24" opacity="0.3"/><line x1="0" y1="54.6" x2="53" y2="42" stroke="#2a6a22" stroke-width="1.2" opacity="0.5" stroke-linecap="round" filter="url(#g1)"/><line x1="26.6" y1="13" x2="20.7" y2="34" stroke="#58b83a" stroke-width="3" opacity="0.95" stroke-linecap="round" filter="url(#g1)"/><path d="M19 33 L34 30 L50 25 L61 21 L63 25.5 L50 31 L34 36.5 L20 38.5 Z" fill="#8fe45c" opacity="1" filter="url(#g1)"/><line x1="38" y1="14" x2="58" y2="21" stroke="#2f7a26" stroke-width="1.4" opacity="0.6" stroke-linecap="round" filter="url(#g1)"/><text x="9" y="6.5" font-size="3.6" style="fill:#d8e8d0" opacity="0.8">100 µg/ml flox/PF4-cre</text><text x="95" y="68.5" font-size="3.8" text-anchor="end" style="fill:#e8f0e4" opacity="0.9">00:10:00</text></svg>
<svg x="379.4" y="370.2" width="57.6" height="42.6" viewBox="0 0 100 74" preserveAspectRatio="none"><rect width="100" height="74" fill="#040704"/><ellipse cx="80" cy="58" rx="22" ry="12" fill="#1c3a18" opacity="0.7" filter="url(#g3)"/><circle cx="65.9" cy="62.6" r="0.9" fill="#4a9a38" opacity="0.5"/><circle cx="93.1" cy="47.6" r="0.6" fill="#4a9a38" opacity="0.5"/><circle cx="60.8" cy="48.8" r="0.9" fill="#4a9a38" opacity="0.5"/><circle cx="60.0" cy="57.9" r="0.6" fill="#4a9a38" opacity="0.5"/><circle cx="67.6" cy="54.9" r="1.0" fill="#4a9a38" opacity="0.5"/><circle cx="82.0" cy="42.4" r="0.7" fill="#4a9a38" opacity="0.5"/><circle cx="60.7" cy="68.1" r="1.0" fill="#4a9a38" opacity="0.5"/><circle cx="91.1" cy="66.8" r="0.9" fill="#4a9a38" opacity="0.5"/><circle cx="97.7" cy="65.8" r="0.7" fill="#4a9a38" opacity="0.5"/><circle cx="93.1" cy="56.6" r="1.0" fill="#4a9a38" opacity="0.5"/><circle cx="80.0" cy="54.9" r="0.7" fill="#4a9a38" opacity="0.5"/><circle cx="73.8" cy="51.4" r="0.6" fill="#4a9a38" opacity="0.5"/><circle cx="91.7" cy="65.9" r="1.1" fill="#4a9a38" opacity="0.5"/><circle cx="85.8" cy="58.6" r="0.9" fill="#4a9a38" opacity="0.5"/><circle cx="60.2" cy="62.3" r="0.8" fill="#4a9a38" opacity="0.5"/><circle cx="62.1" cy="48.1" r="0.8" fill="#4a9a38" opacity="0.5"/><circle cx="65.7" cy="55.8" r="0.9" fill="#4a9a38" opacity="0.5"/><circle cx="72.2" cy="45.9" r="0.8" fill="#4a9a38" opacity="0.5"/><circle cx="64.8" cy="49.1" r="0.6" fill="#4a9a38" opacity="0.5"/><circle cx="70.9" cy="44.2" r="0.9" fill="#4a9a38" opacity="0.5"/><circle cx="97.9" cy="53.7" r="0.9" fill="#4a9a38" opacity="0.5"/><circle cx="96.9" cy="43.3" r="0.6" fill="#4a9a38" opacity="0.5"/><circle cx="91.1" cy="67.1" r="0.9" fill="#4a9a38" opacity="0.5"/><circle cx="61.3" cy="54.4" r="1.0" fill="#4a9a38" opacity="0.5"/><circle cx="94.8" cy="66.1" r="0.6" fill="#4a9a38" opacity="0.5"/><circle cx="93.3" cy="53.2" r="0.9" fill="#4a9a38" opacity="0.5"/><circle cx="60.3" cy="71.1" r="0.9" fill="#4a9a38" opacity="0.5"/><circle cx="87.2" cy="48.4" r="0.9" fill="#4a9a38" opacity="0.5"/><circle cx="80.7" cy="59.7" r="0.7" fill="#4a9a38" opacity="0.5"/><circle cx="87.5" cy="52.2" r="0.7" fill="#4a9a38" opacity="0.5"/><circle cx="61.6" cy="62.5" r="0.6" fill="#4a9a38" opacity="0.5"/><circle cx="64.4" cy="44.1" r="0.9" fill="#4a9a38" opacity="0.5"/><circle cx="79.6" cy="58.3" r="0.5" fill="#4a9a38" opacity="0.5"/><circle cx="74.2" cy="52.3" r="0.6" fill="#4a9a38" opacity="0.5"/><circle cx="57.0" cy="46.1" r="1.0" fill="#2f6a24" opacity="0.3"/><circle cx="27.7" cy="47.4" r="1.0" fill="#2f6a24" opacity="0.3"/><circle cx="90.9" cy="17.1" r="0.9" fill="#2f6a24" opacity="0.3"/><circle cx="61.7" cy="37.7" r="1.1" fill="#2f6a24" opacity="0.3"/><circle cx="52.8" cy="33.9" r="1.1" fill="#2f6a24" opacity="0.3"/><circle cx="63.6" cy="24.6" r="0.7" fill="#2f6a24" opacity="0.3"/><circle cx="49.6" cy="8.4" r="0.9" fill="#2f6a24" opacity="0.3"/><circle cx="73.6" cy="32.7" r="1.0" fill="#2f6a24" opacity="0.3"/><circle cx="92.8" cy="41.1" r="0.9" fill="#2f6a24" opacity="0.3"/><circle cx="11.7" cy="8.6" r="1.1" fill="#2f6a24" opacity="0.3"/><line x1="0" y1="55" x2="40" y2="46" stroke="#235a1c" stroke-width="1" opacity="0.4" stroke-linecap="round" filter="url(#g1)"/><line x1="28" y1="11" x2="22" y2="32" stroke="#58b83a" stroke-width="3" opacity="0.95" stroke-linecap="round" filter="url(#g1)"/><path d="M19 33 L32 30 L46 25.5 L55 21.5 L57 26 L46 31 L32 36.5 L20 38.5 Z" fill="#8fe45c" opacity="1" filter="url(#g1)"/><line x1="38" y1="13" x2="56" y2="20" stroke="#2f7a26" stroke-width="1.4" opacity="0.6" stroke-linecap="round" filter="url(#g1)"/><text x="9" y="6.5" font-size="3.6" style="fill:#d8e8d0" opacity="0.8">100 µg/ml flox/PF4-cre</text><text x="95" y="68.5" font-size="3.8" text-anchor="end" style="fill:#e8f0e4" opacity="0.9">00:30:00</text></svg>
<svg x="440.0" y="370.2" width="57.6" height="42.6" viewBox="0 0 100 74" preserveAspectRatio="none"><rect width="100" height="74" fill="#040704"/><ellipse cx="80" cy="58" rx="22" ry="12" fill="#1c3a18" opacity="0.7" filter="url(#g3)"/><circle cx="58.9" cy="63.1" r="0.9" fill="#4a9a38" opacity="0.5"/><circle cx="97.3" cy="50.1" r="0.7" fill="#4a9a38" opacity="0.5"/><circle cx="87.8" cy="61.8" r="0.7" fill="#4a9a38" opacity="0.5"/><circle cx="85.5" cy="53.9" r="1.0" fill="#4a9a38" opacity="0.5"/><circle cx="59.4" cy="48.7" r="1.0" fill="#4a9a38" opacity="0.5"/><circle cx="70.5" cy="49.8" r="1.0" fill="#4a9a38" opacity="0.5"/><circle cx="83.1" cy="46.5" r="0.8" fill="#4a9a38" opacity="0.5"/><circle cx="84.5" cy="46.9" r="0.9" fill="#4a9a38" opacity="0.5"/><circle cx="59.7" cy="52.1" r="0.5" fill="#4a9a38" opacity="0.5"/><circle cx="63.4" cy="71.3" r="0.7" fill="#4a9a38" opacity="0.5"/><circle cx="99.6" cy="55.2" r="0.9" fill="#4a9a38" opacity="0.5"/><circle cx="94.1" cy="62.6" r="0.6" fill="#4a9a38" opacity="0.5"/><circle cx="81.1" cy="61.0" r="0.6" fill="#4a9a38" opacity="0.5"/><circle cx="58.4" cy="68.2" r="0.8" fill="#4a9a38" opacity="0.5"/><circle cx="62.9" cy="55.6" r="0.6" fill="#4a9a38" opacity="0.5"/><circle cx="90.7" cy="57.0" r="0.6" fill="#4a9a38" opacity="0.5"/><circle cx="91.6" cy="44.7" r="0.7" fill="#4a9a38" opacity="0.5"/><circle cx="55.3" cy="64.2" r="0.6" fill="#4a9a38" opacity="0.5"/><circle cx="78.2" cy="44.8" r="0.8" fill="#4a9a38" opacity="0.5"/><circle cx="85.5" cy="58.0" r="0.8" fill="#4a9a38" opacity="0.5"/><circle cx="76.3" cy="55.1" r="0.9" fill="#4a9a38" opacity="0.5"/><circle cx="58.4" cy="56.2" r="0.6" fill="#4a9a38" opacity="0.5"/><circle cx="93.8" cy="70.2" r="0.5" fill="#4a9a38" opacity="0.5"/><circle cx="60.6" cy="63.1" r="0.8" fill="#4a9a38" opacity="0.5"/><circle cx="54.9" cy="63.1" r="1.1" fill="#4a9a38" opacity="0.5"/><circle cx="73.5" cy="52.4" r="0.8" fill="#4a9a38" opacity="0.5"/><circle cx="97.2" cy="49.9" r="0.7" fill="#4a9a38" opacity="0.5"/><circle cx="62.7" cy="60.9" r="0.8" fill="#4a9a38" opacity="0.5"/><circle cx="65.8" cy="53.6" r="0.5" fill="#4a9a38" opacity="0.5"/><circle cx="68.4" cy="71.5" r="0.9" fill="#4a9a38" opacity="0.5"/><circle cx="67.0" cy="70.1" r="0.7" fill="#4a9a38" opacity="0.5"/><circle cx="65.6" cy="43.1" r="0.6" fill="#4a9a38" opacity="0.5"/><circle cx="63.2" cy="48.9" r="1.0" fill="#4a9a38" opacity="0.5"/><circle cx="66.2" cy="49.5" r="0.9" fill="#4a9a38" opacity="0.5"/><circle cx="52.9" cy="43.1" r="1.0" fill="#2f6a24" opacity="0.3"/><circle cx="89.9" cy="62.3" r="0.7" fill="#2f6a24" opacity="0.3"/><circle cx="94.9" cy="32.6" r="0.7" fill="#2f6a24" opacity="0.3"/><circle cx="9.5" cy="38.3" r="0.6" fill="#2f6a24" opacity="0.3"/><circle cx="27.4" cy="44.7" r="1.0" fill="#2f6a24" opacity="0.3"/><circle cx="75.3" cy="10.6" r="0.5" fill="#2f6a24" opacity="0.3"/><circle cx="25.5" cy="40.9" r="1.0" fill="#2f6a24" opacity="0.3"/><circle cx="80.0" cy="65.7" r="0.9" fill="#2f6a24" opacity="0.3"/><circle cx="63.7" cy="24.0" r="0.7" fill="#2f6a24" opacity="0.3"/><circle cx="20.6" cy="39.8" r="0.9" fill="#2f6a24" opacity="0.3"/><line x1="21" y1="11" x2="17" y2="30" stroke="#58b83a" stroke-width="3" opacity="0.95" stroke-linecap="round" filter="url(#g1)"/><path d="M14 33 L28 30 L44 25.5 L54 21.5 L56 26 L44 31 L28 36.5 L15 38 Z" fill="#8fe45c" opacity="1" filter="url(#g1)"/><line x1="36" y1="13" x2="54" y2="20" stroke="#2f7a26" stroke-width="1.4" opacity="0.6" stroke-linecap="round" filter="url(#g1)"/><text x="9" y="6.5" font-size="3.6" style="fill:#d8e8d0" opacity="0.8">100 µg/ml flox/PF4-cre</text><text x="95" y="68.5" font-size="3.8" text-anchor="end" style="fill:#e8f0e4" opacity="0.9">00:50:00</text></svg>
<svg x="197.3" y="416.2" width="57.6" height="42.6" viewBox="0 0 100 74" preserveAspectRatio="none"><rect width="100" height="74" fill="#131e13"/><ellipse cx="10" cy="62" rx="14" ry="18" fill="#356a2e" opacity="0.85" filter="url(#g3)"/><ellipse cx="14" cy="32" rx="10" ry="5" fill="#2c5a26" opacity="0.7" filter="url(#g2)"/><ellipse cx="60" cy="22" rx="40" ry="14" fill="#22361e" opacity="0.5" filter="url(#g3)"/><ellipse cx="85" cy="60" rx="18" ry="14" fill="#0c120c" opacity="0.7" filter="url(#g3)"/><ellipse cx="50" cy="36" rx="30" ry="10" fill="#1f441a" opacity="0.5" filter="url(#g3)"/><line x1="26" y1="39" x2="62" y2="37" stroke="#2f6a26" stroke-width="2.4" opacity="0.6" stroke-linecap="round" filter="url(#g2)"/><line x1="72" y1="34" x2="95" y2="32" stroke="#2f6a26" stroke-width="1.2" opacity="0.5" stroke-linecap="round" filter="url(#g1)"/><text x="9" y="6.5" font-size="3.6" style="fill:#d8e8d0" opacity="0.8">10 µg/ml flox/flox</text><text x="95" y="68.5" font-size="3.8" text-anchor="end" style="fill:#e8f0e4" opacity="0.9">00:01:00</text></svg>
<svg x="258.4" y="416.2" width="57.6" height="42.6" viewBox="0 0 100 74" preserveAspectRatio="none"><rect width="100" height="74" fill="#131e13"/><ellipse cx="10" cy="62" rx="14" ry="18" fill="#356a2e" opacity="0.85" filter="url(#g3)"/><ellipse cx="14" cy="32" rx="10" ry="5" fill="#2c5a26" opacity="0.7" filter="url(#g2)"/><ellipse cx="60" cy="22" rx="40" ry="14" fill="#22361e" opacity="0.5" filter="url(#g3)"/><ellipse cx="85" cy="60" rx="18" ry="14" fill="#0c120c" opacity="0.7" filter="url(#g3)"/><ellipse cx="48" cy="37" rx="28" ry="14" fill="#2d6a24" opacity="0.8" filter="url(#g3)"/><ellipse cx="48" cy="37" rx="19" ry="5.6" fill="#a6ea68" opacity="1" filter="url(#g1)"/><text x="9" y="6.5" font-size="3.6" style="fill:#d8e8d0" opacity="0.8">10 µg/ml flox/flox</text><text x="95" y="68.5" font-size="3.8" text-anchor="end" style="fill:#e8f0e4" opacity="0.9">00:05:00</text></svg>
<svg x="319.2" y="416.2" width="57.6" height="42.6" viewBox="0 0 100 74" preserveAspectRatio="none"><rect width="100" height="74" fill="#131e13"/><ellipse cx="10" cy="62" rx="14" ry="18" fill="#356a2e" opacity="0.85" filter="url(#g3)"/><ellipse cx="14" cy="32" rx="10" ry="5" fill="#2c5a26" opacity="0.7" filter="url(#g2)"/><ellipse cx="60" cy="22" rx="40" ry="14" fill="#22361e" opacity="0.5" filter="url(#g3)"/><ellipse cx="85" cy="60" rx="18" ry="14" fill="#0c120c" opacity="0.7" filter="url(#g3)"/><ellipse cx="52" cy="36" rx="26" ry="13" fill="#2d6a24" opacity="0.75" filter="url(#g3)"/><ellipse cx="52" cy="36" rx="16.5" ry="5.6" fill="#a6ea68" opacity="1" filter="url(#g1)" transform="rotate(8 52 36)"/><text x="9" y="6.5" font-size="3.6" style="fill:#d8e8d0" opacity="0.8">10 µg/ml flox/flox</text><text x="95" y="68.5" font-size="3.8" text-anchor="end" style="fill:#e8f0e4" opacity="0.9">00:10:00</text></svg>
<svg x="379.4" y="416.2" width="57.6" height="42.6" viewBox="0 0 100 74" preserveAspectRatio="none"><rect width="100" height="74" fill="#131e13"/><ellipse cx="10" cy="62" rx="14" ry="18" fill="#356a2e" opacity="0.85" filter="url(#g3)"/><ellipse cx="14" cy="32" rx="10" ry="5" fill="#2c5a26" opacity="0.7" filter="url(#g2)"/><ellipse cx="60" cy="22" rx="40" ry="14" fill="#22361e" opacity="0.5" filter="url(#g3)"/><ellipse cx="85" cy="60" rx="18" ry="14" fill="#0c120c" opacity="0.7" filter="url(#g3)"/><ellipse cx="49" cy="37" rx="24" ry="12" fill="#2d6a24" opacity="0.7" filter="url(#g3)"/><ellipse cx="49" cy="37" rx="14" ry="4.4" fill="#a6ea68" opacity="1" filter="url(#g1)" transform="rotate(4 49 37)"/><text x="9" y="6.5" font-size="3.6" style="fill:#d8e8d0" opacity="0.8">10 µg/ml flox/flox</text><text x="95" y="68.5" font-size="3.8" text-anchor="end" style="fill:#e8f0e4" opacity="0.9">00:30:00</text></svg>
<svg x="440.0" y="416.2" width="57.6" height="42.6" viewBox="0 0 100 74" preserveAspectRatio="none"><rect width="100" height="74" fill="#131e13"/><ellipse cx="10" cy="62" rx="14" ry="18" fill="#356a2e" opacity="0.85" filter="url(#g3)"/><ellipse cx="14" cy="32" rx="10" ry="5" fill="#2c5a26" opacity="0.7" filter="url(#g2)"/><ellipse cx="60" cy="22" rx="40" ry="14" fill="#22361e" opacity="0.5" filter="url(#g3)"/><ellipse cx="85" cy="60" rx="18" ry="14" fill="#0c120c" opacity="0.7" filter="url(#g3)"/><ellipse cx="49" cy="36" rx="24" ry="12" fill="#2d6a24" opacity="0.7" filter="url(#g3)"/><ellipse cx="49" cy="36" rx="15" ry="3.8" fill="#a6ea68" opacity="1" filter="url(#g1)" transform="rotate(8 49 36)"/><ellipse cx="62" cy="40" rx="5" ry="2.4" fill="#a6ea68" opacity="1" filter="url(#g1)"/><text x="9" y="6.5" font-size="3.6" style="fill:#d8e8d0" opacity="0.8">10 µg/ml flox/flox</text><text x="95" y="68.5" font-size="3.8" text-anchor="end" style="fill:#e8f0e4" opacity="0.9">00:50:00</text></svg>
<svg x="197.3" y="461.6" width="57.6" height="42.6" viewBox="0 0 100 74" preserveAspectRatio="none"><rect width="100" height="74" fill="#101510"/><ellipse cx="45" cy="40" rx="45" ry="18" fill="#172217" opacity="0.6" filter="url(#g3)" transform="rotate(-20 45 40)"/><line x1="55" y1="40" x2="100" y2="12" stroke="#070907" stroke-width="7" opacity="0.8" stroke-linecap="round" filter="url(#g2)"/><ellipse cx="34" cy="42" rx="9" ry="1.6" fill="#24401f" opacity="0.6" filter="url(#g2)"/><text x="9" y="6.5" font-size="3.6" style="fill:#d8e8d0" opacity="0.8">10 µg/ml flox/PF4-cre</text><text x="95" y="68.5" font-size="3.8" text-anchor="end" style="fill:#e8f0e4" opacity="0.9">00:01:00</text></svg>
<svg x="258.4" y="461.6" width="57.6" height="42.6" viewBox="0 0 100 74" preserveAspectRatio="none"><rect width="100" height="74" fill="#101510"/><ellipse cx="45" cy="40" rx="45" ry="18" fill="#172217" opacity="0.6" filter="url(#g3)" transform="rotate(-20 45 40)"/><line x1="55" y1="40" x2="100" y2="12" stroke="#070907" stroke-width="7" opacity="0.8" stroke-linecap="round" filter="url(#g2)"/><ellipse cx="87" cy="14" rx="8" ry="10" fill="#7cd84c" opacity="0.95" filter="url(#g2)"/><ellipse cx="88" cy="12" rx="4.5" ry="6" fill="#b4f27e" opacity="1" filter="url(#g1)"/><ellipse cx="34" cy="42" rx="4" ry="1.6" fill="#2f5a28" opacity="0.7" filter="url(#g2)"/><text x="9" y="6.5" font-size="3.6" style="fill:#d8e8d0" opacity="0.8">10 µg/ml flox/PF4-cre</text><text x="95" y="68.5" font-size="3.8" text-anchor="end" style="fill:#e8f0e4" opacity="0.9">00:05:00</text></svg>
<svg x="319.2" y="461.6" width="57.6" height="42.6" viewBox="0 0 100 74" preserveAspectRatio="none"><rect width="100" height="74" fill="#101510"/><ellipse cx="45" cy="40" rx="45" ry="18" fill="#172217" opacity="0.6" filter="url(#g3)" transform="rotate(-20 45 40)"/><line x1="55" y1="40" x2="100" y2="12" stroke="#070907" stroke-width="7" opacity="0.8" stroke-linecap="round" filter="url(#g2)"/><ellipse cx="46" cy="37" rx="12" ry="8" fill="#2f6a26" opacity="0.6" filter="url(#g2)"/><ellipse cx="44" cy="39" rx="5.5" ry="3.2" fill="#7cd84c" opacity="0.95" filter="url(#g1)"/><ellipse cx="52" cy="34" rx="3" ry="2" fill="#58b83a" opacity="0.9" filter="url(#g1)"/><text x="9" y="6.5" font-size="3.6" style="fill:#d8e8d0" opacity="0.8">10 µg/ml flox/PF4-cre</text><text x="95" y="68.5" font-size="3.8" text-anchor="end" style="fill:#e8f0e4" opacity="0.9">00:10:00</text></svg>
<svg x="379.4" y="461.6" width="57.6" height="42.6" viewBox="0 0 100 74" preserveAspectRatio="none"><rect width="100" height="74" fill="#101510"/><ellipse cx="45" cy="40" rx="45" ry="18" fill="#172217" opacity="0.6" filter="url(#g3)" transform="rotate(-20 45 40)"/><line x1="55" y1="40" x2="100" y2="12" stroke="#070907" stroke-width="7" opacity="0.8" stroke-linecap="round" filter="url(#g2)"/><ellipse cx="47" cy="37" rx="18" ry="11" fill="#2f6a26" opacity="0.55" filter="url(#g2)" transform="rotate(-30 47 37)"/><ellipse cx="37.5" cy="43" rx="5" ry="4" fill="#7cd84c" opacity="1" filter="url(#g1)"/><ellipse cx="58" cy="31" rx="4.4" ry="3.4" fill="#7cd84c" opacity="1" filter="url(#g1)"/><line x1="42" y1="40" x2="54" y2="33" stroke="#3f8a30" stroke-width="1.4" opacity="0.7" stroke-linecap="round" filter="url(#g1)"/><text x="9" y="6.5" font-size="3.6" style="fill:#d8e8d0" opacity="0.8">10 µg/ml flox/PF4-cre</text><text x="95" y="68.5" font-size="3.8" text-anchor="end" style="fill:#e8f0e4" opacity="0.9">00:30:00</text></svg>
<svg x="440.0" y="461.6" width="57.6" height="42.6" viewBox="0 0 100 74" preserveAspectRatio="none"><rect width="100" height="74" fill="#101510"/><ellipse cx="45" cy="40" rx="45" ry="18" fill="#172217" opacity="0.6" filter="url(#g3)" transform="rotate(-20 45 40)"/><line x1="55" y1="40" x2="100" y2="12" stroke="#070907" stroke-width="7" opacity="0.8" stroke-linecap="round" filter="url(#g2)"/><ellipse cx="44" cy="37" rx="18" ry="10" fill="#2f6a26" opacity="0.55" filter="url(#g2)" transform="rotate(-30 44 37)"/><path d="M30 43 L40 38 L47 31 L54 28 L57 32 L50 40 L36 46 Z" fill="#7cd84c" opacity="1" filter="url(#g1)"/><text x="9" y="6.5" font-size="3.6" style="fill:#d8e8d0" opacity="0.8">10 µg/ml flox/PF4-cre</text><text x="95" y="68.5" font-size="3.8" text-anchor="end" style="fill:#e8f0e4" opacity="0.9">00:50:00</text></svg>
<text x="226.6" y="515.4" font-size="7.4" text-anchor="middle">1</text>
<text x="287.7" y="515.4" font-size="7.4" text-anchor="middle">5</text>
<text x="348.5" y="515.4" font-size="7.4" text-anchor="middle">10</text>
<text x="408.7" y="515.4" font-size="7.4" text-anchor="middle">30</text>
<text x="469.3" y="515.4" font-size="7.4" text-anchor="middle">50</text>
<line x1="197" y1="520.6" x2="497.2" y2="520.6" stroke="#111" stroke-width="1.2" stroke-linecap="butt"/>
<text x="347" y="533.4" font-size="10.5" text-anchor="middle" textLength="43" lengthAdjust="spacingAndGlyphs" stroke="#1a1a1a" stroke-width="0.22">Time (min)</text>
</g>
<g id="panelD">
<text x="8.5" y="561.9" font-size="13.8" style="fill:#000" font-weight="700" stroke="#000" stroke-width="0.45">D</text>
<line x1="115.8" y1="569.4" x2="115.8" y2="666.0" stroke="#111" stroke-width="1.3" stroke-linecap="butt"/>
<line x1="113.2" y1="665.4" x2="257.0" y2="665.4" stroke="#111" stroke-width="1.3" stroke-linecap="butt"/>
<line x1="111.39999999999999" y1="665.4" x2="115.8" y2="665.4" stroke="#111" stroke-width="1.1" stroke-linecap="butt"/>
<text x="108.2" y="667.7" font-size="6.7" text-anchor="end">0.0</text>
<line x1="111.39999999999999" y1="634.4" x2="115.8" y2="634.4" stroke="#111" stroke-width="1.1" stroke-linecap="butt"/>
<text x="108.2" y="636.7" font-size="6.7" text-anchor="end">0.5</text>
<line x1="111.39999999999999" y1="603.4" x2="115.8" y2="603.4" stroke="#111" stroke-width="1.1" stroke-linecap="butt"/>
<text x="108.2" y="605.7" font-size="6.7" text-anchor="end">1.0</text>
<line x1="111.39999999999999" y1="572.4" x2="115.8" y2="572.4" stroke="#111" stroke-width="1.1" stroke-linecap="butt"/>
<text x="108.2" y="574.7" font-size="6.7" text-anchor="end">1.5</text>
<line x1="115.8" y1="665.4" x2="115.8" y2="669.6999999999999" stroke="#111" stroke-width="1.1" stroke-linecap="butt"/>
<text x="115.8" y="679.6" font-size="6.7" text-anchor="middle">0</text>
<line x1="162.3" y1="665.4" x2="162.3" y2="669.6999999999999" stroke="#111" stroke-width="1.1" stroke-linecap="butt"/>
<text x="162.3" y="679.6" font-size="6.7" text-anchor="middle">20</text>
<line x1="208.8" y1="665.4" x2="208.8" y2="669.6999999999999" stroke="#111" stroke-width="1.1" stroke-linecap="butt"/>
<text x="208.8" y="679.6" font-size="6.7" text-anchor="middle">40</text>
<line x1="255.3" y1="665.4" x2="255.3" y2="669.6999999999999" stroke="#111" stroke-width="1.1" stroke-linecap="butt"/>
<text x="255.3" y="679.6" font-size="6.7" text-anchor="middle">60</text>
<polygon points="115.8,655.4 117.0,652.6 118.1,649.3 119.3,646.4 120.5,644.5 121.6,643.0 122.8,641.7 123.9,639.5 125.1,637.2 126.3,636.6 127.4,638.7 128.6,639.5 129.8,639.9 130.9,640.0 132.1,640.7 133.2,641.0 134.4,641.3 135.6,641.7 136.7,642.1 137.9,642.7 139.1,642.0 140.2,641.9 141.4,641.3 142.5,642.5 143.7,643.8 144.9,644.7 146.0,644.2 147.2,643.2 148.3,641.0 149.5,641.2 150.7,640.6 151.8,641.1 153.0,640.0 154.2,641.1 155.3,642.7 156.5,643.7 157.7,644.1 158.8,643.4 160.0,643.5 161.1,642.8 162.3,642.3 163.5,642.6 164.6,643.2 165.8,643.9 166.9,644.3 168.1,645.1 169.3,645.5 170.4,644.7 171.6,645.8 172.8,646.2 173.9,647.4 175.1,648.0 176.2,648.8 177.4,649.7 178.6,650.2 179.7,649.8 180.9,650.8 182.1,651.0 183.2,650.8 184.4,651.9 185.6,651.6 186.7,652.2 187.9,652.5 189.0,652.1 190.2,652.2 191.4,652.4 192.5,652.9 193.7,652.8 194.9,653.3 196.0,652.9 197.2,653.3 198.3,653.4 199.5,653.3 200.7,653.7 201.8,654.2 203.0,654.2 204.2,654.4 205.3,654.5 206.5,654.4 207.6,654.3 208.8,654.9 210.0,654.9 211.1,654.8 212.3,654.8 213.4,655.0 214.6,655.3 215.8,655.1 216.9,655.0 218.1,655.4 219.3,655.4 220.4,655.3 221.6,655.4 222.8,655.5 223.9,655.2 225.1,655.5 226.2,655.5 227.4,655.6 228.6,655.8 229.7,655.5 230.9,655.7 232.1,655.7 233.2,655.6 234.4,656.2 235.5,656.2 236.7,655.9 237.9,656.3 239.0,656.2 240.2,656.3 241.4,656.5 242.5,656.4 243.7,656.6 244.8,656.6 246.0,656.5 247.2,656.4 248.3,656.7 249.5,656.8 250.7,656.6 251.8,656.6 251.8,659.6 250.7,660.0 249.5,659.9 248.3,659.6 247.2,659.7 246.0,659.7 244.8,659.7 243.7,659.7 242.5,659.8 241.4,659.4 240.2,659.6 239.0,659.5 237.9,659.4 236.7,659.5 235.5,659.3 234.4,659.5 233.2,659.3 232.1,659.2 230.9,659.5 229.7,659.2 228.6,659.0 227.4,659.2 226.2,658.9 225.1,659.1 223.9,659.2 222.8,659.3 221.6,659.1 220.4,659.0 219.3,658.8 218.1,658.8 216.9,658.8 215.8,658.7 214.6,658.6 213.4,658.9 212.3,658.7 211.1,659.0 210.0,658.8 208.8,658.7 207.6,658.9 206.5,658.8 205.3,658.5 204.2,658.0 203.0,657.9 201.8,658.1 200.7,657.9 199.5,657.6 198.3,657.4 197.2,657.5 196.0,657.2 194.9,657.3 193.7,657.1 192.5,657.0 191.4,657.4 190.2,657.4 189.0,657.4 187.9,657.1 186.7,657.0 185.6,657.3 184.4,657.0 183.2,656.7 182.1,656.5 180.9,656.9 179.7,656.4 178.6,656.4 177.4,656.9 176.2,656.7 175.1,656.0 173.9,655.3 172.8,655.2 171.6,654.9 170.4,653.9 169.3,654.2 168.1,654.6 166.9,653.6 165.8,653.2 164.6,653.0 163.5,653.2 162.3,651.7 161.1,653.6 160.0,653.0 158.8,654.2 157.7,654.6 156.5,655.5 155.3,653.9 154.2,652.4 153.0,650.9 151.8,651.3 150.7,651.7 149.5,652.5 148.3,651.9 147.2,653.6 146.0,654.6 144.9,655.0 143.7,653.3 142.5,652.4 141.4,650.6 140.2,651.2 139.1,651.4 137.9,652.2 136.7,651.7 135.6,650.2 134.4,650.7 133.2,648.9 132.1,648.4 130.9,648.8 129.8,648.9 128.6,647.9 127.4,646.2 126.3,644.9 125.1,646.1 123.9,648.1 122.8,648.7 121.6,649.5 120.5,650.9 119.3,651.3 118.1,653.3 117.0,654.8 115.8,656.8" fill="#f3b296" opacity="1"/>
<polygon points="115.8,655.6 117.0,648.0 118.1,641.0 119.3,633.5 120.5,628.4 121.6,620.3 122.8,616.9 123.9,614.4 125.1,611.8 126.3,606.3 127.4,607.1 128.6,600.7 129.8,602.6 130.9,602.2 132.1,599.0 133.2,603.0 134.4,607.2 135.6,609.6 136.7,608.7 137.9,607.0 139.1,600.3 140.2,613.1 141.4,613.0 142.5,610.7 143.7,608.4 144.9,607.4 146.0,599.8 147.2,596.6 148.3,594.9 149.5,584.0 150.7,590.5 151.8,588.4 153.0,596.1 154.2,600.6 155.3,608.5 156.5,616.3 157.7,624.6 158.8,624.2 160.0,628.3 161.1,629.6 162.3,630.5 163.5,627.5 164.6,626.2 165.8,624.6 166.9,626.5 168.1,624.5 169.3,624.0 170.4,621.8 171.6,620.3 172.8,620.7 173.9,622.4 175.1,621.0 176.2,625.2 177.4,627.3 178.6,624.1 179.7,621.0 180.9,621.8 182.1,618.9 183.2,613.0 184.4,611.2 185.6,612.6 186.7,608.5 187.9,611.5 189.0,608.2 190.2,619.7 191.4,624.5 192.5,630.5 193.7,634.4 194.9,633.4 196.0,635.2 197.2,636.3 198.3,634.1 199.5,634.1 200.7,634.5 201.8,638.4 203.0,643.9 204.2,646.4 205.3,648.2 206.5,645.5 207.6,644.6 208.8,642.5 210.0,644.6 211.1,645.5 212.3,646.4 213.4,647.5 214.6,647.3 215.8,648.7 216.9,649.0 218.1,648.8 219.3,649.7 220.4,649.3 221.6,649.7 222.8,649.8 223.9,649.5 225.1,649.5 226.2,649.8 227.4,649.8 228.6,649.5 229.7,649.7 230.9,649.4 232.1,649.8 233.2,649.7 234.4,650.7 235.5,650.4 236.7,651.4 237.9,651.5 239.0,651.6 240.2,651.8 241.4,652.3 242.5,652.6 243.7,652.9 244.8,652.4 246.0,652.7 247.2,652.8 248.3,653.5 249.5,653.3 250.7,653.4 251.8,654.2 251.8,657.1 250.7,657.2 249.5,656.8 248.3,656.4 247.2,656.3 246.0,656.3 244.8,655.8 243.7,655.7 242.5,656.0 241.4,656.1 240.2,655.7 239.0,655.3 237.9,655.5 236.7,654.5 235.5,654.7 234.4,653.9 233.2,653.3 232.1,653.7 230.9,653.0 229.7,653.3 228.6,653.0 227.4,653.6 226.2,653.4 225.1,653.7 223.9,654.3 222.8,653.7 221.6,654.6 220.4,653.4 219.3,653.1 218.1,653.2 216.9,653.5 215.8,653.2 214.6,652.9 213.4,651.7 212.3,651.6 211.1,651.1 210.0,650.3 208.8,649.2 207.6,651.4 206.5,652.7 205.3,655.1 204.2,653.5 203.0,650.8 201.8,650.3 200.7,646.0 199.5,646.6 198.3,645.3 197.2,646.9 196.0,648.1 194.9,648.9 193.7,648.3 192.5,646.5 191.4,642.5 190.2,642.7 189.0,636.5 187.9,633.0 186.7,633.1 185.6,637.3 184.4,636.8 183.2,638.4 182.1,638.9 180.9,638.7 179.7,641.7 178.6,644.7 177.4,645.7 176.2,645.0 175.1,639.7 173.9,641.9 172.8,640.1 171.6,640.9 170.4,643.3 169.3,645.0 168.1,642.1 166.9,643.1 165.8,640.9 164.6,642.8 163.5,641.5 162.3,643.8 161.1,645.2 160.0,642.1 158.8,643.7 157.7,642.1 156.5,636.1 155.3,634.3 154.2,633.0 153.0,627.1 151.8,625.9 150.7,624.1 149.5,621.7 148.3,621.2 147.2,625.8 146.0,629.1 144.9,630.6 143.7,634.2 142.5,634.7 141.4,636.4 140.2,633.0 139.1,630.4 137.9,630.7 136.7,636.0 135.6,629.1 134.4,627.6 133.2,621.1 132.1,618.4 130.9,617.6 129.8,619.1 128.6,619.4 127.4,621.8 126.3,621.8 125.1,627.3 123.9,628.4 122.8,628.1 121.6,631.4 120.5,635.3 119.3,641.8 118.1,646.3 117.0,651.4 115.8,656.8" fill="#7c7c7c" opacity="1"/>
<path d="M115.8 655.6V656.8M117.0 648.0V651.4M118.1 641.0V646.3M119.3 633.5V641.8M120.5 628.4V635.3M121.6 620.3V631.4M122.8 616.9V628.1M123.9 614.4V628.4M125.1 611.8V627.3M126.3 606.3V621.8M127.4 607.1V621.8M128.6 600.7V619.4M129.8 602.6V619.1M130.9 602.2V617.6M132.1 599.0V618.4M133.2 603.0V621.1M134.4 607.2V627.6M135.6 609.6V629.1M136.7 608.7V636.0M137.9 607.0V630.7M139.1 600.3V630.4M140.2 613.1V633.0M141.4 613.0V636.4M142.5 610.7V634.7M143.7 608.4V634.2M144.9 607.4V630.6M146.0 599.8V629.1M147.2 596.6V625.8M148.3 594.9V621.2M149.5 584.0V621.7M150.7 590.5V624.1M151.8 588.4V625.9M153.0 596.1V627.1M154.2 600.6V633.0M155.3 608.5V634.3M156.5 616.3V636.1M157.7 624.6V642.1M158.8 624.2V643.7M160.0 628.3V642.1M161.1 629.6V645.2M162.3 630.5V643.8M163.5 627.5V641.5M164.6 626.2V642.8M165.8 624.6V640.9M166.9 626.5V643.1M168.1 624.5V642.1M169.3 624.0V645.0M170.4 621.8V643.3M171.6 620.3V640.9M172.8 620.7V640.1M173.9 622.4V641.9M175.1 621.0V639.7M176.2 625.2V645.0M177.4 627.3V645.7M178.6 624.1V644.7M179.7 621.0V641.7M180.9 621.8V638.7M182.1 618.9V638.9M183.2 613.0V638.4M184.4 611.2V636.8M185.6 612.6V637.3M186.7 608.5V633.1M187.9 611.5V633.0M189.0 608.2V636.5M190.2 619.7V642.7M191.4 624.5V642.5M192.5 630.5V646.5M193.7 634.4V648.3M194.9 633.4V648.9M196.0 635.2V648.1M197.2 636.3V646.9M198.3 634.1V645.3M199.5 634.1V646.6M200.7 634.5V646.0M201.8 638.4V650.3M203.0 643.9V650.8M204.2 646.4V653.5M205.3 648.2V655.1M206.5 645.5V652.7M207.6 644.6V651.4M208.8 642.5V649.2M210.0 644.6V650.3M211.1 645.5V651.1M212.3 646.4V651.6M213.4 647.5V651.7M214.6 647.3V652.9M215.8 648.7V653.2M216.9 649.0V653.5M218.1 648.8V653.2M219.3 649.7V653.1M220.4 649.3V653.4M221.6 649.7V654.6M222.8 649.8V653.7M223.9 649.5V654.3M225.1 649.5V653.7M226.2 649.8V653.4M227.4 649.8V653.6M228.6 649.5V653.0M229.7 649.7V653.3M230.9 649.4V653.0M232.1 649.8V653.7M233.2 649.7V653.3M234.4 650.7V653.9M235.5 650.4V654.7M236.7 651.4V654.5M237.9 651.5V655.5M239.0 651.6V655.3M240.2 651.8V655.7M241.4 652.3V656.1M242.5 652.6V656.0M243.7 652.9V655.7M244.8 652.4V655.8M246.0 652.7V656.3M247.2 652.8V656.3M248.3 653.5V656.4M249.5 653.3V656.8M250.7 653.4V657.2M251.8 654.2V657.1" stroke="#222" stroke-width="0.45" fill="none"/>
<polyline points="115.8,656.1 117.0,653.7 118.1,651.3 119.3,649.0 120.5,647.7 121.6,646.5 122.8,645.2 123.9,643.6 125.1,641.9 126.3,640.9 127.4,642.5 128.6,643.8 129.8,644.1 130.9,644.4 132.1,644.7 133.2,645.1 134.4,645.7 135.6,646.3 136.7,646.9 137.9,647.3 139.1,646.7 140.2,646.1 141.4,646.5 142.5,647.5 143.7,648.5 144.9,649.5 146.0,649.2 147.2,648.0 148.3,646.8 149.5,646.6 150.7,646.3 151.8,646.1 153.0,645.9 154.2,647.3 155.3,648.7 156.5,649.8 157.7,649.3 158.8,648.9 160.0,648.4 161.1,647.9 162.3,647.4 163.5,648.0 164.6,648.6 165.8,649.0 166.9,649.2 168.1,649.4 169.3,649.6 170.4,649.7 171.6,649.9 172.8,650.5 173.9,651.1 175.1,651.7 176.2,652.3 177.4,652.9 178.6,653.2 179.7,653.4 180.9,653.6 182.1,653.9 183.2,654.1 184.4,654.3 185.6,654.4 186.7,654.5 187.9,654.6 189.0,654.8 190.2,654.9 191.4,654.9 192.5,655.0 193.7,655.1 194.9,655.2 196.0,655.3 197.2,655.4 198.3,655.6 199.5,655.7 200.7,655.8 201.8,655.9 203.0,656.1 204.2,656.2 205.3,656.3 206.5,656.5 207.6,656.6 208.8,656.7 210.0,656.8 211.1,656.8 212.3,656.8 213.4,656.9 214.6,656.9 215.8,657.0 216.9,657.0 218.1,657.1 219.3,657.1 220.4,657.1 221.6,657.2 222.8,657.2 223.9,657.3 225.1,657.3 226.2,657.4 227.4,657.4 228.6,657.4 229.7,657.5 230.9,657.5 232.1,657.6 233.2,657.6 234.4,657.6 235.5,657.7 236.7,657.7 237.9,657.8 239.0,657.8 240.2,657.9 241.4,657.9 242.5,657.9 243.7,658.0 244.8,658.0 246.0,658.1 247.2,658.1 248.3,658.2 249.5,658.2 250.7,658.2 251.8,658.3" fill="none" stroke="#cf4527" stroke-width="1.3" stroke-linejoin="round"/>
<polyline points="115.8,656.1 117.0,649.9 118.1,643.7 119.3,637.5 120.5,631.9 121.6,626.3 122.8,623.6 123.9,620.9 125.1,618.2 126.3,615.8 127.4,613.4 128.6,611.3 129.8,610.4 130.9,609.5 132.1,608.5 133.2,612.1 134.4,616.7 135.6,620.1 136.7,623.2 137.9,620.3 139.1,615.8 140.2,622.4 141.4,624.7 142.5,624.1 143.7,621.7 144.9,618.1 146.0,614.6 147.2,610.9 148.3,607.3 149.5,604.5 150.7,605.6 151.8,607.3 153.0,611.3 154.2,615.8 155.3,621.8 156.5,627.5 157.7,631.8 158.8,634.8 160.0,635.7 161.1,636.6 162.3,637.5 163.5,635.6 164.6,633.7 165.8,633.0 166.9,634.2 168.1,635.4 169.3,634.4 170.4,632.9 171.6,631.3 172.8,630.7 173.9,630.1 175.1,631.3 176.2,635.2 177.4,636.5 178.6,634.2 179.7,631.8 180.9,629.8 182.1,627.8 183.2,625.9 184.4,623.9 185.6,623.2 186.7,622.7 187.9,622.3 189.0,624.2 190.2,629.6 191.4,634.2 192.5,637.7 193.7,641.1 194.9,641.6 196.0,641.4 197.2,641.0 198.3,640.1 199.5,639.1 200.7,640.7 201.8,644.1 203.0,647.4 204.2,649.4 205.3,651.1 206.5,649.3 207.6,647.4 208.8,646.1 210.0,647.2 211.1,648.2 212.3,648.8 213.4,649.5 214.6,650.1 215.8,650.6 216.9,650.9 218.1,651.2 219.3,651.5 220.4,651.8 221.6,652.1 222.8,652.0 223.9,651.8 225.1,651.7 226.2,651.6 227.4,651.5 228.6,651.4 229.7,651.3 230.9,651.1 232.1,651.5 233.2,651.9 234.4,652.3 235.5,652.6 236.7,653.0 237.9,653.4 239.0,653.7 240.2,653.8 241.4,654.0 242.5,654.1 243.7,654.3 244.8,654.4 246.0,654.5 247.2,654.7 248.3,654.9 249.5,655.1 250.7,655.3 251.8,655.5" fill="none" stroke="#050505" stroke-width="2.0" stroke-linejoin="round"/>
<line x1="367.9" y1="569.4" x2="367.9" y2="666.0" stroke="#111" stroke-width="1.3" stroke-linecap="butt"/>
<line x1="365.29999999999995" y1="665.4" x2="509.09999999999997" y2="665.4" stroke="#111" stroke-width="1.3" stroke-linecap="butt"/>
<line x1="363.5" y1="665.4" x2="367.9" y2="665.4" stroke="#111" stroke-width="1.1" stroke-linecap="butt"/>
<text x="360.3" y="667.7" font-size="6.7" text-anchor="end">0.0</text>
<line x1="363.5" y1="634.4" x2="367.9" y2="634.4" stroke="#111" stroke-width="1.1" stroke-linecap="butt"/>
<text x="360.3" y="636.7" font-size="6.7" text-anchor="end">0.5</text>
<line x1="363.5" y1="603.4" x2="367.9" y2="603.4" stroke="#111" stroke-width="1.1" stroke-linecap="butt"/>
<text x="360.3" y="605.7" font-size="6.7" text-anchor="end">1.0</text>
<line x1="363.5" y1="572.4" x2="367.9" y2="572.4" stroke="#111" stroke-width="1.1" stroke-linecap="butt"/>
<text x="360.3" y="574.7" font-size="6.7" text-anchor="end">1.5</text>
<line x1="367.9" y1="665.4" x2="367.9" y2="669.6999999999999" stroke="#111" stroke-width="1.1" stroke-linecap="butt"/>
<text x="367.9" y="679.6" font-size="6.7" text-anchor="middle">0</text>
<line x1="414.4" y1="665.4" x2="414.4" y2="669.6999999999999" stroke="#111" stroke-width="1.1" stroke-linecap="butt"/>
<text x="414.4" y="679.6" font-size="6.7" text-anchor="middle">20</text>
<line x1="460.9" y1="665.4" x2="460.9" y2="669.6999999999999" stroke="#111" stroke-width="1.1" stroke-linecap="butt"/>
<text x="460.9" y="679.6" font-size="6.7" text-anchor="middle">40</text>
<line x1="507.4" y1="665.4" x2="507.4" y2="669.6999999999999" stroke="#111" stroke-width="1.1" stroke-linecap="butt"/>
<text x="507.4" y="679.6" font-size="6.7" text-anchor="middle">60</text>
<polygon points="367.9,659.9 369.1,653.9 370.2,648.1 371.4,641.5 372.5,640.4 373.7,639.4 374.9,638.6 376.0,636.3 377.2,636.2 378.4,641.9 379.5,645.1 380.7,642.8 381.8,640.7 383.0,640.5 384.2,640.5 385.3,640.6 386.5,641.3 387.7,643.0 388.8,642.3 390.0,640.9 391.1,640.0 392.3,640.3 393.5,641.2 394.6,640.5 395.8,639.7 397.0,637.8 398.1,636.6 399.3,635.6 400.4,635.8 401.6,634.7 402.8,634.4 403.9,633.8 405.1,632.2 406.3,632.6 407.4,629.7 408.6,628.9 409.8,627.2 410.9,626.4 412.1,623.4 413.2,622.5 414.4,625.2 415.6,625.7 416.7,629.7 417.9,632.4 419.0,635.9 420.2,634.9 421.4,634.2 422.5,633.6 423.7,633.7 424.9,632.1 426.0,632.5 427.2,631.7 428.3,634.5 429.5,636.2 430.7,636.6 431.8,638.5 433.0,639.3 434.2,640.0 435.3,638.4 436.5,637.1 437.6,636.5 438.8,630.7 440.0,624.9 441.1,620.9 442.3,625.1 443.5,626.8 444.6,633.9 445.8,637.9 446.9,637.6 448.1,638.3 449.3,639.0 450.4,639.6 451.6,640.5 452.8,642.1 453.9,643.1 455.1,645.5 456.2,646.0 457.4,647.0 458.6,648.2 459.7,649.5 460.9,650.0 462.1,650.8 463.2,651.7 464.4,651.7 465.5,651.9 466.7,652.8 467.9,652.6 469.0,652.8 470.2,653.4 471.4,652.9 472.5,652.7 473.7,652.5 474.8,652.2 476.0,651.9 477.2,651.9 478.3,650.4 479.5,648.5 480.7,647.0 481.8,643.8 483.0,640.8 484.1,640.5 485.3,638.4 486.5,644.6 487.6,647.9 488.8,650.5 490.0,651.1 491.1,652.3 492.3,652.4 493.4,653.9 494.6,653.6 495.8,654.1 496.9,653.9 498.1,654.0 499.3,654.6 500.4,654.6 501.6,654.9 502.8,655.0 503.9,654.9 503.9,659.7 502.8,659.5 501.6,660.1 500.4,660.0 499.3,660.0 498.1,659.5 496.9,659.3 495.8,659.9 494.6,659.6 493.4,659.5 492.3,658.4 491.1,658.1 490.0,657.3 488.8,656.7 487.6,657.1 486.5,656.7 485.3,654.6 484.1,655.8 483.0,656.5 481.8,656.6 480.7,656.2 479.5,657.4 478.3,658.0 477.2,656.8 476.0,657.0 474.8,657.5 473.7,657.9 472.5,657.6 471.4,657.8 470.2,657.8 469.0,658.3 467.9,657.8 466.7,657.2 465.5,657.4 464.4,656.7 463.2,656.4 462.1,656.4 460.9,655.0 459.7,655.1 458.6,654.4 457.4,653.7 456.2,653.3 455.1,652.8 453.9,651.8 452.8,650.4 451.6,648.6 450.4,649.2 449.3,648.8 448.1,648.2 446.9,647.9 445.8,646.5 444.6,645.9 443.5,641.9 442.3,643.9 441.1,645.9 440.0,644.5 438.8,644.1 437.6,645.9 436.5,647.0 435.3,647.3 434.2,647.6 433.0,647.0 431.8,646.0 430.7,645.2 429.5,644.6 428.3,643.6 427.2,643.3 426.0,642.5 424.9,643.2 423.7,643.1 422.5,643.1 421.4,645.0 420.2,644.4 419.0,645.1 417.9,644.4 416.7,643.0 415.6,641.2 414.4,639.0 413.2,639.9 412.1,639.9 410.9,639.4 409.8,639.0 408.6,639.9 407.4,641.5 406.3,642.1 405.1,642.2 403.9,642.9 402.8,643.2 401.6,642.7 400.4,642.8 399.3,643.2 398.1,643.9 397.0,645.0 395.8,646.8 394.6,647.8 393.5,648.1 392.3,647.8 391.1,647.3 390.0,649.3 388.8,650.5 387.7,650.6 386.5,650.1 385.3,648.0 384.2,648.2 383.0,649.0 381.8,648.9 380.7,651.9 379.5,653.5 378.4,650.4 377.2,645.7 376.0,644.7 374.9,645.4 373.7,646.4 372.5,647.0 371.4,648.3 370.2,652.3 369.1,656.6 367.9,661.0" fill="#f3b296" opacity="1"/>
<polygon points="367.9,659.9 369.1,650.9 370.2,641.4 371.4,633.7 372.5,628.0 373.7,620.3 374.9,616.5 376.0,614.6 377.2,611.9 378.4,617.6 379.5,622.7 380.7,626.3 381.8,629.9 383.0,625.3 384.2,625.4 385.3,627.9 386.5,628.7 387.7,626.0 388.8,623.4 390.0,627.0 391.1,624.7 392.3,626.6 393.5,627.7 394.6,629.4 395.8,631.7 397.0,635.6 398.1,636.2 399.3,635.4 400.4,633.9 401.6,632.6 402.8,631.7 403.9,629.9 405.1,629.9 406.3,627.5 407.4,631.0 408.6,631.8 409.8,634.7 410.9,636.0 412.1,638.4 413.2,639.6 414.4,640.7 415.6,641.2 416.7,640.0 417.9,638.5 419.0,639.0 420.2,638.2 421.4,638.9 422.5,638.7 423.7,638.4 424.9,639.7 426.0,640.0 427.2,640.7 428.3,640.7 429.5,642.0 430.7,642.9 431.8,642.2 433.0,643.2 434.2,643.8 435.3,644.8 436.5,644.2 437.6,644.3 438.8,644.0 440.0,643.8 441.1,645.0 442.3,643.6 443.5,644.7 444.6,643.7 445.8,642.8 446.9,641.2 448.1,639.9 449.3,640.8 450.4,643.4 451.6,645.9 452.8,646.6 453.9,648.1 455.1,647.9 456.2,648.9 457.4,648.8 458.6,649.2 459.7,650.1 460.9,649.8 462.1,650.6 463.2,650.4 464.4,650.2 465.5,651.0 466.7,650.5 467.9,650.6 469.0,651.4 470.2,650.7 471.4,651.3 472.5,651.3 473.7,650.8 474.8,651.9 476.0,651.0 477.2,651.6 478.3,651.1 479.5,651.4 480.7,651.5 481.8,651.9 483.0,652.0 484.1,651.6 485.3,651.5 486.5,651.4 487.6,651.4 488.8,651.5 490.0,652.4 491.1,652.3 492.3,651.8 493.4,652.1 494.6,651.9 495.8,652.3 496.9,652.1 498.1,652.3 499.3,652.2 500.4,652.6 501.6,651.9 502.8,652.0 503.9,652.3 503.9,656.4 502.8,655.6 501.6,656.3 500.4,656.3 499.3,656.3 498.1,655.7 496.9,656.2 495.8,656.3 494.6,655.7 493.4,656.3 492.3,655.9 491.1,655.6 490.0,656.1 488.8,655.9 487.6,656.2 486.5,656.0 485.3,655.3 484.1,655.5 483.0,655.3 481.8,655.5 480.7,655.7 479.5,656.0 478.3,655.4 477.2,656.1 476.0,656.1 474.8,655.9 473.7,655.1 472.5,655.3 471.4,655.2 470.2,655.0 469.0,655.0 467.9,655.0 466.7,655.2 465.5,654.7 464.4,655.2 463.2,654.4 462.1,654.2 460.9,654.5 459.7,654.7 458.6,654.1 457.4,654.3 456.2,653.9 455.1,653.3 453.9,653.4 452.8,652.8 451.6,652.5 450.4,652.7 449.3,650.2 448.1,650.2 446.9,651.8 445.8,652.0 444.6,653.0 443.5,653.0 442.3,653.3 441.1,651.0 440.0,651.9 438.8,650.8 437.6,650.6 436.5,649.9 435.3,650.5 434.2,650.0 433.0,648.8 431.8,649.2 430.7,648.3 429.5,648.4 428.3,647.6 427.2,647.2 426.0,646.6 424.9,645.8 423.7,645.0 422.5,645.3 421.4,645.0 420.2,644.0 419.0,644.6 417.9,644.2 416.7,645.2 415.6,648.2 414.4,648.2 413.2,646.5 412.1,645.3 410.9,644.1 409.8,643.7 408.6,640.4 407.4,641.0 406.3,640.9 405.1,638.8 403.9,640.9 402.8,640.8 401.6,642.3 400.4,643.5 399.3,642.4 398.1,644.2 397.0,643.6 395.8,641.5 394.6,639.8 393.5,639.8 392.3,639.7 391.1,640.4 390.0,639.7 388.8,639.4 387.7,643.5 386.5,645.1 385.3,645.8 384.2,643.0 383.0,641.7 381.8,642.3 380.7,644.3 379.5,639.6 378.4,638.7 377.2,635.2 376.0,632.1 374.9,634.1 373.7,636.2 372.5,638.6 371.4,643.3 370.2,647.9 369.1,655.0 367.9,661.1" fill="#7c7c7c" opacity="1"/>
<path d="M367.9 659.9V661.1M369.1 650.9V655.0M370.2 641.4V647.9M371.4 633.7V643.3M372.5 628.0V638.6M373.7 620.3V636.2M374.9 616.5V634.1M376.0 614.6V632.1M377.2 611.9V635.2M378.4 617.6V638.7M379.5 622.7V639.6M380.7 626.3V644.3M381.8 629.9V642.3M383.0 625.3V641.7M384.2 625.4V643.0M385.3 627.9V645.8M386.5 628.7V645.1M387.7 626.0V643.5M388.8 623.4V639.4M390.0 627.0V639.7M391.1 624.7V640.4M392.3 626.6V639.7M393.5 627.7V639.8M394.6 629.4V639.8M395.8 631.7V641.5M397.0 635.6V643.6M398.1 636.2V644.2M399.3 635.4V642.4M400.4 633.9V643.5M401.6 632.6V642.3M402.8 631.7V640.8M403.9 629.9V640.9M405.1 629.9V638.8M406.3 627.5V640.9M407.4 631.0V641.0M408.6 631.8V640.4M409.8 634.7V643.7M410.9 636.0V644.1M412.1 638.4V645.3M413.2 639.6V646.5M414.4 640.7V648.2M415.6 641.2V648.2M416.7 640.0V645.2M417.9 638.5V644.2M419.0 639.0V644.6M420.2 638.2V644.0M421.4 638.9V645.0M422.5 638.7V645.3M423.7 638.4V645.0M424.9 639.7V645.8M426.0 640.0V646.6M427.2 640.7V647.2M428.3 640.7V647.6M429.5 642.0V648.4M430.7 642.9V648.3M431.8 642.2V649.2M433.0 643.2V648.8M434.2 643.8V650.0M435.3 644.8V650.5M436.5 644.2V649.9M437.6 644.3V650.6M438.8 644.0V650.8M440.0 643.8V651.9M441.1 645.0V651.0M442.3 643.6V653.3M443.5 644.7V653.0M444.6 643.7V653.0M445.8 642.8V652.0M446.9 641.2V651.8M448.1 639.9V650.2M449.3 640.8V650.2M450.4 643.4V652.7M451.6 645.9V652.5M452.8 646.6V652.8M453.9 648.1V653.4M455.1 647.9V653.3M456.2 648.9V653.9M457.4 648.8V654.3M458.6 649.2V654.1M459.7 650.1V654.7M460.9 649.8V654.5M462.1 650.6V654.2M463.2 650.4V654.4M464.4 650.2V655.2M465.5 651.0V654.7M466.7 650.5V655.2M467.9 650.6V655.0M469.0 651.4V655.0M470.2 650.7V655.0M471.4 651.3V655.2M472.5 651.3V655.3M473.7 650.8V655.1M474.8 651.9V655.9M476.0 651.0V656.1M477.2 651.6V656.1M478.3 651.1V655.4M479.5 651.4V656.0M480.7 651.5V655.7M481.8 651.9V655.5M483.0 652.0V655.3M484.1 651.6V655.5M485.3 651.5V655.3M486.5 651.4V656.0M487.6 651.4V656.2M488.8 651.5V655.9M490.0 652.4V656.1M491.1 652.3V655.6M492.3 651.8V655.9M493.4 652.1V656.3M494.6 651.9V655.7M495.8 652.3V656.3M496.9 652.1V656.2M498.1 652.3V655.7M499.3 652.2V656.3M500.4 652.6V656.3M501.6 651.9V656.3M502.8 652.0V655.6M503.9 652.3V656.4" stroke="#222" stroke-width="0.45" fill="none"/>
<polyline points="367.9,660.4 369.1,655.3 370.2,650.1 371.4,644.9 372.5,644.0 373.7,643.0 374.9,642.0 376.0,640.1 377.2,641.0 378.4,646.6 379.5,649.1 380.7,647.2 381.8,645.3 383.0,644.7 384.2,644.5 385.3,644.6 386.5,645.8 387.7,646.9 388.8,646.6 390.0,645.1 391.1,643.7 392.3,644.1 393.5,644.6 394.6,644.6 395.8,642.9 397.0,641.3 398.1,640.3 399.3,639.9 400.4,639.4 401.6,638.9 402.8,638.5 403.9,638.2 405.1,637.8 406.3,637.2 407.4,635.8 408.6,634.3 409.8,632.9 410.9,632.2 412.1,631.6 413.2,630.9 414.4,631.8 415.6,633.7 416.7,635.8 417.9,638.2 419.0,640.6 420.2,639.9 421.4,639.2 422.5,638.6 423.7,638.3 424.9,638.0 426.0,637.7 427.2,638.0 428.3,639.2 429.5,640.4 430.7,641.2 431.8,642.0 433.0,642.8 434.2,643.5 435.3,643.1 436.5,642.4 437.6,641.0 438.8,637.0 440.0,633.8 441.1,634.0 442.3,634.2 443.5,634.4 444.6,639.4 445.8,642.3 446.9,643.0 448.1,643.7 449.3,644.1 450.4,644.4 451.6,644.8 452.8,645.9 453.9,647.4 455.1,649.0 456.2,649.7 457.4,650.5 458.6,651.3 459.7,652.1 460.9,652.8 462.1,653.6 463.2,654.3 464.4,654.5 465.5,654.8 466.7,655.0 467.9,655.2 469.0,655.5 470.2,655.7 471.4,655.6 472.5,655.4 473.7,655.2 474.8,654.9 476.0,654.7 477.2,654.5 478.3,654.2 479.5,652.9 480.7,651.6 481.8,650.3 483.0,649.0 484.1,647.9 485.3,646.8 486.5,649.9 487.6,653.0 488.8,653.7 490.0,654.4 491.1,655.1 492.3,655.8 493.4,656.4 494.6,656.8 495.8,656.8 496.9,656.9 498.1,657.0 499.3,657.1 500.4,657.1 501.6,657.2 502.8,657.3 503.9,657.3" fill="none" stroke="#cf4527" stroke-width="1.3" stroke-linejoin="round"/>
<polyline points="367.9,660.4 369.1,652.8 370.2,645.1 371.4,637.5 372.5,633.3 373.7,629.2 374.9,626.0 376.0,624.5 377.2,622.9 378.4,627.6 379.5,632.5 380.7,635.6 381.8,636.6 383.0,634.2 384.2,633.9 385.3,636.5 386.5,636.1 387.7,633.8 388.8,633.0 390.0,633.2 391.1,633.5 392.3,633.7 393.5,634.0 394.6,634.3 395.8,636.3 397.0,639.4 398.1,640.1 399.3,639.4 400.4,638.6 401.6,637.8 402.8,636.8 403.9,635.7 405.1,634.7 406.3,634.0 407.4,635.1 408.6,636.4 409.8,638.7 410.9,640.9 412.1,642.4 413.2,643.4 414.4,644.4 415.6,644.3 416.7,642.8 417.9,641.8 419.0,641.6 420.2,641.5 421.4,641.3 422.5,641.5 423.7,642.1 424.9,642.7 426.0,643.3 427.2,643.9 428.3,644.5 429.5,645.0 430.7,645.5 431.8,646.0 433.0,646.4 434.2,646.8 435.3,647.2 436.5,647.5 437.6,647.6 438.8,647.7 440.0,647.8 441.1,647.9 442.3,648.1 443.5,648.6 444.6,648.7 445.8,647.5 446.9,646.2 448.1,644.9 449.3,646.4 450.4,647.9 451.6,649.3 452.8,650.2 453.9,650.6 455.1,651.0 456.2,651.4 457.4,651.8 458.6,652.1 459.7,652.2 460.9,652.3 462.1,652.5 463.2,652.6 464.4,652.7 465.5,652.8 466.7,652.9 467.9,653.0 469.0,653.1 470.2,653.2 471.4,653.2 472.5,653.3 473.7,653.4 474.8,653.4 476.0,653.5 477.2,653.6 478.3,653.6 479.5,653.6 480.7,653.7 481.8,653.7 483.0,653.7 484.1,653.7 485.3,653.8 486.5,653.8 487.6,653.8 488.8,653.8 490.0,653.9 491.1,653.9 492.3,653.9 493.4,653.9 494.6,654.0 495.8,654.0 496.9,654.0 498.1,654.1 499.3,654.1 500.4,654.1 501.6,654.2 502.8,654.2 503.9,654.2" fill="none" stroke="#050505" stroke-width="2.0" stroke-linejoin="round"/>
<text x="187" y="562.6" font-size="10.1" text-anchor="middle" textLength="96.4" lengthAdjust="spacingAndGlyphs">Platelet Accumulation</text>
<text x="187.2" y="692.6" font-size="10.4" text-anchor="middle" textLength="31.7" lengthAdjust="spacingAndGlyphs" stroke="#1a1a1a" stroke-width="0.22">Minutes</text>
<text x="89.3" y="617.5" font-size="9.6" text-anchor="middle" textLength="65" lengthAdjust="spacingAndGlyphs" transform="rotate(-90 89.3 617.5)" stroke="#1a1a1a" stroke-width="0.22">Relative intensity</text>
<circle cx="196.5" cy="584.6" r="1.7" fill="#000"/>
<text x="200.8" y="587.6" font-size="7.5">ERK5<tspan dy="-3.2" font-size="5" textLength="13.6" lengthAdjust="spacingAndGlyphs">fx/fx</tspan></text>
<rect x="195.2" y="595.2" width="2.7" height="2.7" fill="#b23a24"/>
<text x="200.8" y="599.3" font-size="7.5" style="fill:#c4482e" textLength="59.5" lengthAdjust="spacingAndGlyphs">ERK5<tspan dy="-3.2" font-size="5">fx</tspan><tspan dy="3.2">/PF4-cre+</tspan></text>
<text x="439.1" y="562.6" font-size="10.1" text-anchor="middle" textLength="96.4" lengthAdjust="spacingAndGlyphs">Platelet Accumulation</text>
<text x="439.3" y="692.6" font-size="10.4" text-anchor="middle" textLength="31.7" lengthAdjust="spacingAndGlyphs" stroke="#1a1a1a" stroke-width="0.22">Minutes</text>
<text x="341.4" y="617.5" font-size="9.6" text-anchor="middle" textLength="65" lengthAdjust="spacingAndGlyphs" transform="rotate(-90 341.4 617.5)" stroke="#1a1a1a" stroke-width="0.22">Relative intensity</text>
<circle cx="448.6" cy="584.6" r="1.7" fill="#000"/>
<text x="452.9" y="587.6" font-size="7.5">ERK5<tspan dy="-3.2" font-size="5" textLength="13.6" lengthAdjust="spacingAndGlyphs">fx/fx</tspan></text>
<rect x="447.3" y="595.2" width="2.7" height="2.7" fill="#b23a24"/>
<text x="452.9" y="599.3" font-size="7.5" style="fill:#c4482e" textLength="59.5" lengthAdjust="spacingAndGlyphs">ERK5<tspan dy="-3.2" font-size="5">fx</tspan><tspan dy="3.2">/PF4-cre+</tspan></text>
<text x="19.5" y="620" font-size="9.7" textLength="59.3" lengthAdjust="spacingAndGlyphs">High Fat Diet</text>
<line x1="19.5" y1="621.4" x2="78.8" y2="621.4" stroke="#222" stroke-width="0.8" stroke-linecap="butt"/>
<text x="278" y="620" font-size="9.7" textLength="54.5" lengthAdjust="spacingAndGlyphs">Control Diet</text>
<line x1="278" y1="621.4" x2="332.5" y2="621.4" stroke="#222" stroke-width="0.8" stroke-linecap="butt"/>
</g>
<g id="panelE">
<text x="9.2" y="721.2" font-size="13.4" style="fill:#000" font-weight="700" stroke="#000" stroke-width="0.45">E</text>
<line x1="212.6" y1="717.4" x2="212.6" y2="801.1" stroke="#111" stroke-width="1.3" stroke-linecap="butt"/>
<line x1="212.0" y1="800.5" x2="375.8" y2="800.5" stroke="#111" stroke-width="1.3" stroke-linecap="butt"/>
<line x1="208.0" y1="800.5" x2="212.6" y2="800.5" stroke="#111" stroke-width="1.1" stroke-linecap="butt"/>
<text x="205.4" y="803.0" font-size="7" text-anchor="end">0</text>
<line x1="208.0" y1="784.4" x2="212.6" y2="784.4" stroke="#111" stroke-width="1.1" stroke-linecap="butt"/>
<text x="205.4" y="786.9" font-size="7" text-anchor="end">10</text>
<line x1="208.0" y1="768.3" x2="212.6" y2="768.3" stroke="#111" stroke-width="1.1" stroke-linecap="butt"/>
<text x="205.4" y="770.8" font-size="7" text-anchor="end">20</text>
<line x1="208.0" y1="752.2" x2="212.6" y2="752.2" stroke="#111" stroke-width="1.1" stroke-linecap="butt"/>
<text x="205.4" y="754.7" font-size="7" text-anchor="end">30</text>
<line x1="208.0" y1="736.1" x2="212.6" y2="736.1" stroke="#111" stroke-width="1.1" stroke-linecap="butt"/>
<text x="205.4" y="738.6" font-size="7" text-anchor="end">40</text>
<line x1="208.0" y1="720.0" x2="212.6" y2="720.0" stroke="#111" stroke-width="1.1" stroke-linecap="butt"/>
<text x="205.4" y="722.5" font-size="7" text-anchor="end">50</text>
<line x1="233" y1="800.5" x2="233" y2="803.5" stroke="#111" stroke-width="1.1" stroke-linecap="butt"/>
<line x1="274.5" y1="800.5" x2="274.5" y2="803.5" stroke="#111" stroke-width="1.1" stroke-linecap="butt"/>
<line x1="315.8" y1="800.5" x2="315.8" y2="803.5" stroke="#111" stroke-width="1.1" stroke-linecap="butt"/>
<line x1="357" y1="800.5" x2="357" y2="803.5" stroke="#111" stroke-width="1.1" stroke-linecap="butt"/>
<text x="178.8" y="758.8" font-size="9.4" text-anchor="middle" textLength="58.5" lengthAdjust="spacingAndGlyphs" transform="rotate(-90 178.8 758.8)" stroke="#1a1a1a" stroke-width="0.22">Area under the</text>
<text x="190" y="758.8" font-size="9.4" text-anchor="middle" textLength="51" lengthAdjust="spacingAndGlyphs" transform="rotate(-90 190 758.8)" stroke="#1a1a1a" stroke-width="0.22">curve (A.U.)</text>
<path d="M218.9 800.5 V757 H247.9 V800.5" fill="#fff" stroke="#2b3a6b" stroke-width="1.4"/>
<path d="M260.2 800.5 V780 H289.9 V800.5" fill="#fff" stroke="#8a1a38" stroke-width="1.4"/>
<path d="M301.4 800.5 V769.3 H330.4 V800.5" fill="#fff" stroke="#2b3a6b" stroke-width="1.4"/>
<path d="M342.7 800.5 V778 H371.6 V800.5" fill="#fff" stroke="#8a1a38" stroke-width="1.4"/>
<circle cx="233" cy="732.5" r="1.75" fill="#22335f"/><circle cx="233" cy="740.5" r="1.75" fill="#22335f"/><circle cx="236.3" cy="764.3" r="1.75" fill="#22335f"/><circle cx="230.5" cy="766.3" r="1.75" fill="#22335f"/><circle cx="233" cy="774.5" r="1.75" fill="#22335f"/>
<line x1="233" y1="750.8" x2="233" y2="765" stroke="#111" stroke-width="1.2" stroke-linecap="butt"/><line x1="226.3" y1="750.8" x2="240" y2="750.8" stroke="#111" stroke-width="1.2" stroke-linecap="butt"/><line x1="226.3" y1="765" x2="240" y2="765" stroke="#111" stroke-width="1.2" stroke-linecap="butt"/>
<circle cx="274.5" cy="762" r="1.75" fill="#a31a3c"/><circle cx="268.8" cy="780" r="1.75" fill="#a31a3c"/><circle cx="274.5" cy="781" r="1.75" fill="#a31a3c"/><circle cx="280" cy="779.5" r="1.75" fill="#a31a3c"/><circle cx="277" cy="790.5" r="1.75" fill="#a31a3c"/><circle cx="272.5" cy="793.8" r="1.75" fill="#a31a3c"/>
<line x1="274.5" y1="776.3" x2="274.5" y2="785.5" stroke="#111" stroke-width="1.2" stroke-linecap="butt"/><line x1="267.5" y1="776.3" x2="282" y2="776.3" stroke="#111" stroke-width="1.2" stroke-linecap="butt"/><line x1="267.5" y1="785.5" x2="282" y2="785.5" stroke="#111" stroke-width="1.2" stroke-linecap="butt"/>
<circle cx="315.8" cy="752" r="1.75" fill="#22335f"/><circle cx="311.3" cy="773.3" r="1.75" fill="#22335f"/><circle cx="315.8" cy="770.8" r="1.75" fill="#22335f"/><circle cx="315.5" cy="778.8" r="1.75" fill="#22335f"/><circle cx="320.8" cy="778.8" r="1.75" fill="#22335f"/>
<line x1="315.8" y1="765" x2="315.8" y2="774.3" stroke="#111" stroke-width="1.2" stroke-linecap="butt"/><line x1="308.8" y1="765" x2="323" y2="765" stroke="#111" stroke-width="1.2" stroke-linecap="butt"/><line x1="308.8" y1="774.3" x2="323" y2="774.3" stroke="#111" stroke-width="1.2" stroke-linecap="butt"/>
<circle cx="355" cy="766.3" r="1.75" fill="#a31a3c"/><circle cx="359.5" cy="771.3" r="1.75" fill="#a31a3c"/><circle cx="357" cy="779.5" r="1.75" fill="#a31a3c"/><circle cx="357" cy="784.5" r="1.75" fill="#a31a3c"/><circle cx="357" cy="794.5" r="1.75" fill="#a31a3c"/>
<line x1="357" y1="773.3" x2="357" y2="783.3" stroke="#111" stroke-width="1.2" stroke-linecap="butt"/><line x1="350" y1="773.3" x2="364.5" y2="773.3" stroke="#111" stroke-width="1.2" stroke-linecap="butt"/><line x1="350" y1="783.3" x2="364.5" y2="783.3" stroke="#111" stroke-width="1.2" stroke-linecap="butt"/>
<path d="M233 725 V718.8 H274.3 V753.8" fill="none" stroke="#111" stroke-width="1.2"/>
<text x="240" y="715.5" font-size="7" textLength="27.5" lengthAdjust="spacingAndGlyphs">p = 0.03</text>
<path d="M315.8 746.3 V738 H357 V760" fill="none" stroke="#111" stroke-width="1.2"/>
<text x="322" y="733.8" font-size="7" textLength="27.2" lengthAdjust="spacingAndGlyphs">p = 0.74</text>
<text x="218.4" y="814.8" font-size="6.6" textLength="32" lengthAdjust="spacingAndGlyphs">ERK5<tspan dy="-2.8" font-size="4.8">fx/fx</tspan></text>
<text x="260.5" y="814.8" font-size="6.6" textLength="28.6" lengthAdjust="spacingAndGlyphs">ERK5<tspan dy="-2.8" font-size="4.8">fx</tspan><tspan dy="2.8">/</tspan></text><text x="260.5" y="823.9" font-size="6.6" textLength="27.2" lengthAdjust="spacingAndGlyphs">PF4-cre</text>
<text x="300.2" y="814.8" font-size="6.6" textLength="31.6" lengthAdjust="spacingAndGlyphs">ERK5<tspan dy="-2.8" font-size="4.8">fx/fx</tspan></text>
<text x="343.6" y="814.8" font-size="6.6" textLength="27.3" lengthAdjust="spacingAndGlyphs">ERK5<tspan dy="-2.8" font-size="4.8">fx</tspan><tspan dy="2.8">/</tspan></text><text x="343.6" y="823.9" font-size="6.6" textLength="25.9" lengthAdjust="spacingAndGlyphs">PF4-cre</text>
<line x1="218.2" y1="828.3" x2="290.2" y2="828.3" stroke="#111" stroke-width="1.2" stroke-linecap="butt"/>
<line x1="299.2" y1="828.3" x2="371.7" y2="828.3" stroke="#111" stroke-width="1.2" stroke-linecap="butt"/>
<text x="142.5" y="825.9" font-size="7.1" textLength="66.3" lengthAdjust="spacingAndGlyphs">apoE with BM from:</text>
<text x="231.9" y="836.7" font-size="7.1" textLength="45.4" lengthAdjust="spacingAndGlyphs">High Fat Diet</text>
<text x="315.4" y="836.7" font-size="7.1" textLength="40.3" lengthAdjust="spacingAndGlyphs">Control Diet</text>
</g>
<rect x="0.75" y="0.75" width="518.5" height="846.3" fill="none" stroke="#000" stroke-width="1.5"/>
<rect x="0" y="846.2" width="520" height="1.8" fill="#000"/>
<rect x="518.2" y="0" width="1.8" height="848" fill="#000"/>
<rect x="0" y="0" width="1.6" height="848" fill="#000"/>
</svg>
</body></html>
